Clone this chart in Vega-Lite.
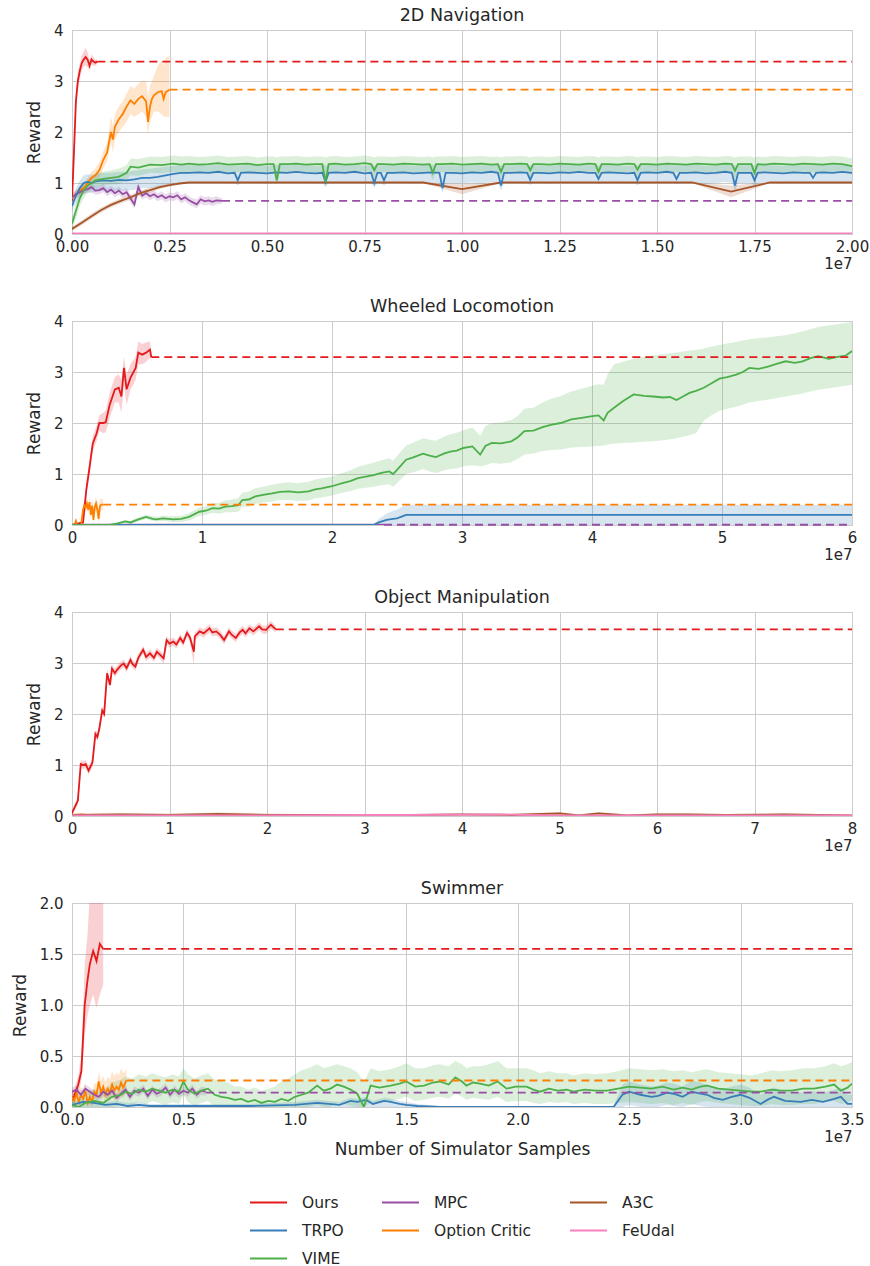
{
"$schema": "https://vega.github.io/schema/vega-lite/v6.json",
"padding": {"left": 10, "top": 6, "right": 2, "bottom": 0},
"background": "white",
"config": {
 "font": "DejaVu Sans",
 "view": {"stroke": "#cccccc", "strokeWidth": 1},
 "axis": {"grid": true, "gridColor": "#cccccc", "gridWidth": 1, "domain": false, "ticks": false, "labelFontSize": 15, "labelColor": "#262626", "titleFontSize": 17, "titleColor": "#262626", "titleFontWeight": "normal", "labelFlush": false},
 "title": {"fontSize": 17.5, "fontWeight": "normal", "color": "#262626", "offset": -1},
 "legend": {"orient": "bottom", "offset": 25, "columns": 3, "symbolType": "stroke", "symbolStrokeWidth": 2, "symbolSize": 1369, "labelFontSize": 15.5, "labelColor": "#262626", "columnPadding": 34, "rowPadding": -12, "labelOffset": 14, "layout": {"bottom": {"anchor": "middle"}}}
},
"spacing": 25,
"resolve": {"scale": {"color": "shared", "fill": "shared", "x": "independent", "y": "independent"}},
"datasets": {
"finals": [
 {"panel":1,"method":"Ours","x":0.065,"x_end":2,"y":3.38},
 {"panel":1,"method":"Option Critic","x":0.25,"x_end":2,"y":2.83},
 {"panel":1,"method":"MPC","x":0.385,"x_end":2,"y":0.65},
 {"panel":2,"method":"Ours","x":0.61,"x_end":6,"y":3.29},
 {"panel":2,"method":"Option Critic","x":0.24,"x_end":6,"y":0.4},
 {"panel":2,"method":"MPC","x":2.4,"x_end":6,"y":0.005},
 {"panel":3,"method":"Ours","x":2.09,"x_end":8,"y":3.66},
 {"panel":4,"method":"Ours","x":0.14,"x_end":3.5,"y":1.55},
 {"panel":4,"method":"Option Critic","x":0.244,"x_end":3.5,"y":0.26},
 {"panel":4,"method":"MPC","x":0.6,"x_end":3.5,"y":0.14}
],
"curves": [
 {"panel":1,"method":"Ours","x":0,"y":0.65,"lo":0.6,"hi":0.7},
 {"panel":1,"method":"Ours","x":0.005,"y":1.6,"lo":1.45,"hi":1.75},
 {"panel":1,"method":"Ours","x":0.01,"y":2.6,"lo":2.45,"hi":2.75},
 {"panel":1,"method":"Ours","x":0.015,"y":3.0,"lo":2.85,"hi":3.15},
 {"panel":1,"method":"Ours","x":0.02,"y":3.2,"lo":3.05,"hi":3.35},
 {"panel":1,"method":"Ours","x":0.025,"y":3.35,"lo":3.2,"hi":3.5},
 {"panel":1,"method":"Ours","x":0.03,"y":3.42,"lo":3.28,"hi":3.58},
 {"panel":1,"method":"Ours","x":0.035,"y":3.47,"lo":3.3,"hi":3.65},
 {"panel":1,"method":"Ours","x":0.04,"y":3.42,"lo":3.28,"hi":3.56},
 {"panel":1,"method":"Ours","x":0.045,"y":3.3,"lo":3.2,"hi":3.42},
 {"panel":1,"method":"Ours","x":0.05,"y":3.42,"lo":3.32,"hi":3.52},
 {"panel":1,"method":"Ours","x":0.055,"y":3.38,"lo":3.3,"hi":3.46},
 {"panel":1,"method":"Ours","x":0.06,"y":3.36,"lo":3.3,"hi":3.42},
 {"panel":1,"method":"Ours","x":0.065,"y":3.38,"lo":3.34,"hi":3.42},

 {"panel":1,"method":"Option Critic","x":0,"y":0.7,"lo":0.62,"hi":0.78},
 {"panel":1,"method":"Option Critic","x":0.01,"y":0.78,"lo":0.7,"hi":0.86},
 {"panel":1,"method":"Option Critic","x":0.02,"y":0.85,"lo":0.76,"hi":0.94},
 {"panel":1,"method":"Option Critic","x":0.03,"y":0.9,"lo":0.8,"hi":1.0},
 {"panel":1,"method":"Option Critic","x":0.04,"y":1.0,"lo":0.9,"hi":1.1},
 {"panel":1,"method":"Option Critic","x":0.05,"y":1.1,"lo":0.98,"hi":1.22},
 {"panel":1,"method":"Option Critic","x":0.06,"y":1.15,"lo":1.02,"hi":1.28},
 {"panel":1,"method":"Option Critic","x":0.07,"y":1.25,"lo":1.1,"hi":1.4},
 {"panel":1,"method":"Option Critic","x":0.08,"y":1.45,"lo":1.28,"hi":1.62},
 {"panel":1,"method":"Option Critic","x":0.09,"y":1.6,"lo":1.42,"hi":1.8},
 {"panel":1,"method":"Option Critic","x":0.1,"y":2.0,"lo":1.8,"hi":2.3},
 {"panel":1,"method":"Option Critic","x":0.105,"y":1.85,"lo":1.6,"hi":2.1},
 {"panel":1,"method":"Option Critic","x":0.11,"y":2.1,"lo":1.85,"hi":2.35},
 {"panel":1,"method":"Option Critic","x":0.12,"y":2.25,"lo":2.0,"hi":2.5},
 {"panel":1,"method":"Option Critic","x":0.13,"y":2.35,"lo":2.1,"hi":2.6},
 {"panel":1,"method":"Option Critic","x":0.14,"y":2.5,"lo":2.2,"hi":2.75},
 {"panel":1,"method":"Option Critic","x":0.15,"y":2.62,"lo":2.35,"hi":2.9},
 {"panel":1,"method":"Option Critic","x":0.16,"y":2.55,"lo":2.3,"hi":2.85},
 {"panel":1,"method":"Option Critic","x":0.17,"y":2.65,"lo":2.35,"hi":2.95},
 {"panel":1,"method":"Option Critic","x":0.18,"y":2.7,"lo":2.4,"hi":3.0},
 {"panel":1,"method":"Option Critic","x":0.19,"y":2.6,"lo":2.3,"hi":3.0},
 {"panel":1,"method":"Option Critic","x":0.195,"y":2.2,"lo":1.95,"hi":2.7},
 {"panel":1,"method":"Option Critic","x":0.2,"y":2.5,"lo":2.2,"hi":2.9},
 {"panel":1,"method":"Option Critic","x":0.205,"y":2.65,"lo":2.3,"hi":3.0},
 {"panel":1,"method":"Option Critic","x":0.21,"y":2.72,"lo":2.4,"hi":3.1},
 {"panel":1,"method":"Option Critic","x":0.22,"y":2.78,"lo":2.4,"hi":3.3},
 {"panel":1,"method":"Option Critic","x":0.23,"y":2.8,"lo":2.35,"hi":3.4},
 {"panel":1,"method":"Option Critic","x":0.235,"y":2.65,"lo":2.3,"hi":3.3},
 {"panel":1,"method":"Option Critic","x":0.24,"y":2.78,"lo":2.3,"hi":3.45},
 {"panel":1,"method":"Option Critic","x":0.25,"y":2.83,"lo":2.3,"hi":3.5},

 {"panel":1,"method":"MPC","x":0,"y":0.72,"lo":0.64,"hi":0.8},
 {"panel":1,"method":"MPC","x":0.01,"y":0.78,"lo":0.7,"hi":0.86},
 {"panel":1,"method":"MPC","x":0.02,"y":0.82,"lo":0.74,"hi":0.9},
 {"panel":1,"method":"MPC","x":0.03,"y":0.86,"lo":0.78,"hi":0.94},
 {"panel":1,"method":"MPC","x":0.04,"y":0.88,"lo":0.8,"hi":0.96},
 {"panel":1,"method":"MPC","x":0.05,"y":0.92,"lo":0.84,"hi":1.0},
 {"panel":1,"method":"MPC","x":0.06,"y":0.85,"lo":0.77,"hi":0.93},
 {"panel":1,"method":"MPC","x":0.07,"y":0.86,"lo":0.78,"hi":0.94},
 {"panel":1,"method":"MPC","x":0.08,"y":0.9,"lo":0.82,"hi":0.98},
 {"panel":1,"method":"MPC","x":0.09,"y":0.82,"lo":0.74,"hi":0.9},
 {"panel":1,"method":"MPC","x":0.1,"y":0.87,"lo":0.79,"hi":0.95},
 {"panel":1,"method":"MPC","x":0.11,"y":0.8,"lo":0.72,"hi":0.88},
 {"panel":1,"method":"MPC","x":0.12,"y":0.85,"lo":0.77,"hi":0.93},
 {"panel":1,"method":"MPC","x":0.13,"y":0.78,"lo":0.7,"hi":0.86},
 {"panel":1,"method":"MPC","x":0.14,"y":0.82,"lo":0.74,"hi":0.9},
 {"panel":1,"method":"MPC","x":0.15,"y":0.7,"lo":0.62,"hi":0.78},
 {"panel":1,"method":"MPC","x":0.16,"y":0.58,"lo":0.5,"hi":0.7},
 {"panel":1,"method":"MPC","x":0.17,"y":0.92,"lo":0.8,"hi":1.0},
 {"panel":1,"method":"MPC","x":0.18,"y":0.75,"lo":0.67,"hi":0.83},
 {"panel":1,"method":"MPC","x":0.19,"y":0.8,"lo":0.72,"hi":0.88},
 {"panel":1,"method":"MPC","x":0.2,"y":0.74,"lo":0.66,"hi":0.82},
 {"panel":1,"method":"MPC","x":0.21,"y":0.78,"lo":0.7,"hi":0.86},
 {"panel":1,"method":"MPC","x":0.22,"y":0.72,"lo":0.64,"hi":0.8},
 {"panel":1,"method":"MPC","x":0.23,"y":0.76,"lo":0.68,"hi":0.84},
 {"panel":1,"method":"MPC","x":0.24,"y":0.7,"lo":0.62,"hi":0.78},
 {"panel":1,"method":"MPC","x":0.25,"y":0.74,"lo":0.66,"hi":0.82},
 {"panel":1,"method":"MPC","x":0.26,"y":0.72,"lo":0.64,"hi":0.8},
 {"panel":1,"method":"MPC","x":0.27,"y":0.76,"lo":0.68,"hi":0.84},
 {"panel":1,"method":"MPC","x":0.28,"y":0.68,"lo":0.6,"hi":0.76},
 {"panel":1,"method":"MPC","x":0.29,"y":0.72,"lo":0.64,"hi":0.8},
 {"panel":1,"method":"MPC","x":0.3,"y":0.66,"lo":0.58,"hi":0.74},
 {"panel":1,"method":"MPC","x":0.31,"y":0.62,"lo":0.54,"hi":0.7},
 {"panel":1,"method":"MPC","x":0.32,"y":0.58,"lo":0.5,"hi":0.68},
 {"panel":1,"method":"MPC","x":0.33,"y":0.68,"lo":0.6,"hi":0.76},
 {"panel":1,"method":"MPC","x":0.34,"y":0.64,"lo":0.56,"hi":0.72},
 {"panel":1,"method":"MPC","x":0.35,"y":0.66,"lo":0.58,"hi":0.74},
 {"panel":1,"method":"MPC","x":0.36,"y":0.63,"lo":0.55,"hi":0.71},
 {"panel":1,"method":"MPC","x":0.37,"y":0.66,"lo":0.58,"hi":0.74},
 {"panel":1,"method":"MPC","x":0.385,"y":0.65,"lo":0.6,"hi":0.7},

 {"panel":1,"method":"A3C","x":0,"y":0.1,"lo":0.06,"hi":0.14},
 {"panel":1,"method":"A3C","x":0.025,"y":0.22,"lo":0.17,"hi":0.27},
 {"panel":1,"method":"A3C","x":0.05,"y":0.35,"lo":0.3,"hi":0.4},
 {"panel":1,"method":"A3C","x":0.075,"y":0.47,"lo":0.42,"hi":0.52},
 {"panel":1,"method":"A3C","x":0.1,"y":0.57,"lo":0.52,"hi":0.62},
 {"panel":1,"method":"A3C","x":0.125,"y":0.65,"lo":0.6,"hi":0.7},
 {"panel":1,"method":"A3C","x":0.15,"y":0.72,"lo":0.67,"hi":0.77},
 {"panel":1,"method":"A3C","x":0.175,"y":0.8,"lo":0.75,"hi":0.85},
 {"panel":1,"method":"A3C","x":0.2,"y":0.86,"lo":0.81,"hi":0.91},
 {"panel":1,"method":"A3C","x":0.225,"y":0.92,"lo":0.88,"hi":0.96},
 {"panel":1,"method":"A3C","x":0.25,"y":0.96,"lo":0.93,"hi":0.99},
 {"panel":1,"method":"A3C","x":0.275,"y":0.99,"lo":0.97,"hi":1.01},
 {"panel":1,"method":"A3C","x":0.3,"y":1.01,"lo":1.0,"hi":1.02},
 {"panel":1,"method":"A3C","x":0.9,"y":1.01,"lo":1.0,"hi":1.02},
 {"panel":1,"method":"A3C","x":1.0,"y":0.88,"lo":0.78,"hi":0.98},
 {"panel":1,"method":"A3C","x":1.1,"y":1.01,"lo":1.0,"hi":1.02},
 {"panel":1,"method":"A3C","x":1.59,"y":1.01,"lo":1.0,"hi":1.02},
 {"panel":1,"method":"A3C","x":1.69,"y":0.83,"lo":0.72,"hi":0.95},
 {"panel":1,"method":"A3C","x":1.79,"y":1.01,"lo":1.0,"hi":1.02},
 {"panel":1,"method":"A3C","x":2.0,"y":1.01,"lo":1.0,"hi":1.02},

 {"panel":1,"method":"FeUdal","x":0,"y":0.01,"lo":0.01,"hi":0.01},
 {"panel":1,"method":"FeUdal","x":2,"y":0.01,"lo":0.01,"hi":0.01},

 {"panel":1,"method":"TRPO","x":0,"y":0.55,"lo":0.45,"hi":0.65},
 {"panel":1,"method":"TRPO","x":0.01,"y":0.75,"lo":0.6,"hi":0.9},
 {"panel":1,"method":"TRPO","x":0.02,"y":0.9,"lo":0.72,"hi":1.05},
 {"panel":1,"method":"TRPO","x":0.03,"y":1.0,"lo":0.8,"hi":1.15},
 {"panel":1,"method":"TRPO","x":0.04,"y":1.02,"lo":0.82,"hi":1.17},
 {"panel":1,"method":"TRPO","x":0.05,"y":1.0,"lo":0.8,"hi":1.16},
 {"panel":1,"method":"TRPO","x":0.06,"y":1.03,"lo":0.83,"hi":1.18},
 {"panel":1,"method":"TRPO","x":0.08,"y":1.05,"lo":0.85,"hi":1.2},
 {"panel":1,"method":"TRPO","x":0.1,"y":1.04,"lo":0.84,"hi":1.2},
 {"panel":1,"method":"TRPO","x":0.12,"y":1.06,"lo":0.86,"hi":1.22},
 {"panel":1,"method":"TRPO","x":0.14,"y":1.05,"lo":0.85,"hi":1.22},
 {"panel":1,"method":"TRPO","x":0.16,"y":1.07,"lo":0.87,"hi":1.24},
 {"panel":1,"method":"TRPO","x":0.18,"y":1.1,"lo":0.9,"hi":1.27},
 {"panel":1,"method":"TRPO","x":0.2,"y":1.1,"lo":0.9,"hi":1.28},
 {"panel":1,"method":"TRPO","x":0.22,"y":1.12,"lo":0.92,"hi":1.3},
 {"panel":1,"method":"TRPO","x":0.24,"y":1.15,"lo":0.95,"hi":1.32},
 {"panel":1,"method":"TRPO","x":0.26,"y":1.18,"lo":0.98,"hi":1.34},
 {"panel":1,"method":"TRPO","x":0.28,"y":1.2,"lo":1.0,"hi":1.36},
 {"panel":1,"method":"TRPO","x":0.3,"y":1.2,"lo":1.0,"hi":1.35},
 {"panel":1,"method":"TRPO","x":0.325,"y":1.21,"lo":1.01,"hi":1.36},
 {"panel":1,"method":"TRPO","x":0.35,"y":1.2,"lo":1.0,"hi":1.35},
 {"panel":1,"method":"TRPO","x":0.375,"y":1.22,"lo":1.02,"hi":1.37},
 {"panel":1,"method":"TRPO","x":0.4,"y":1.19,"lo":0.99,"hi":1.34},
 {"panel":1,"method":"TRPO","x":0.417,"y":1.2,"lo":1.0,"hi":1.35},
 {"panel":1,"method":"TRPO","x":0.425,"y":1.05,"lo":0.95,"hi":1.35},
 {"panel":1,"method":"TRPO","x":0.433,"y":1.2,"lo":1.0,"hi":1.35},
 {"panel":1,"method":"TRPO","x":0.45,"y":1.21,"lo":1.01,"hi":1.36},
 {"panel":1,"method":"TRPO","x":0.475,"y":1.2,"lo":1.0,"hi":1.35},
 {"panel":1,"method":"TRPO","x":0.5,"y":1.19,"lo":0.99,"hi":1.34},
 {"panel":1,"method":"TRPO","x":0.525,"y":1.21,"lo":1.01,"hi":1.36},
 {"panel":1,"method":"TRPO","x":0.55,"y":1.2,"lo":1.0,"hi":1.35},
 {"panel":1,"method":"TRPO","x":0.575,"y":1.22,"lo":1.02,"hi":1.37},
 {"panel":1,"method":"TRPO","x":0.6,"y":1.2,"lo":1.0,"hi":1.35},
 {"panel":1,"method":"TRPO","x":0.625,"y":1.19,"lo":0.99,"hi":1.34},
 {"panel":1,"method":"TRPO","x":0.642,"y":1.2,"lo":1.0,"hi":1.35},
 {"panel":1,"method":"TRPO","x":0.65,"y":1.02,"lo":0.92,"hi":1.35},
 {"panel":1,"method":"TRPO","x":0.658,"y":1.2,"lo":1.0,"hi":1.35},
 {"panel":1,"method":"TRPO","x":0.675,"y":1.21,"lo":1.01,"hi":1.36},
 {"panel":1,"method":"TRPO","x":0.7,"y":1.2,"lo":1.0,"hi":1.35},
 {"panel":1,"method":"TRPO","x":0.725,"y":1.22,"lo":1.02,"hi":1.37},
 {"panel":1,"method":"TRPO","x":0.75,"y":1.19,"lo":0.99,"hi":1.34},
 {"panel":1,"method":"TRPO","x":0.767,"y":1.2,"lo":1.0,"hi":1.35},
 {"panel":1,"method":"TRPO","x":0.775,"y":1.0,"lo":0.9,"hi":1.35},
 {"panel":1,"method":"TRPO","x":0.783,"y":1.2,"lo":1.0,"hi":1.35},
 {"panel":1,"method":"TRPO","x":0.792,"y":1.2,"lo":1.0,"hi":1.35},
 {"panel":1,"method":"TRPO","x":0.8,"y":1.05,"lo":0.95,"hi":1.35},
 {"panel":1,"method":"TRPO","x":0.808,"y":1.2,"lo":1.0,"hi":1.35},
 {"panel":1,"method":"TRPO","x":0.825,"y":1.2,"lo":1.0,"hi":1.35},
 {"panel":1,"method":"TRPO","x":0.85,"y":1.21,"lo":1.01,"hi":1.36},
 {"panel":1,"method":"TRPO","x":0.875,"y":1.19,"lo":0.99,"hi":1.34},
 {"panel":1,"method":"TRPO","x":0.9,"y":1.2,"lo":1.0,"hi":1.35},
 {"panel":1,"method":"TRPO","x":0.925,"y":1.21,"lo":1.01,"hi":1.36},
 {"panel":1,"method":"TRPO","x":0.942,"y":1.2,"lo":1.0,"hi":1.35},
 {"panel":1,"method":"TRPO","x":0.95,"y":0.9,"lo":0.8,"hi":1.35},
 {"panel":1,"method":"TRPO","x":0.958,"y":1.2,"lo":1.0,"hi":1.35},
 {"panel":1,"method":"TRPO","x":0.975,"y":1.2,"lo":1.0,"hi":1.35},
 {"panel":1,"method":"TRPO","x":1.0,"y":1.19,"lo":0.99,"hi":1.34},
 {"panel":1,"method":"TRPO","x":1.025,"y":1.21,"lo":1.01,"hi":1.36},
 {"panel":1,"method":"TRPO","x":1.05,"y":1.2,"lo":1.0,"hi":1.35},
 {"panel":1,"method":"TRPO","x":1.075,"y":1.22,"lo":1.02,"hi":1.37},
 {"panel":1,"method":"TRPO","x":1.092,"y":1.2,"lo":1.0,"hi":1.35},
 {"panel":1,"method":"TRPO","x":1.1,"y":0.95,"lo":0.85,"hi":1.35},
 {"panel":1,"method":"TRPO","x":1.108,"y":1.2,"lo":1.0,"hi":1.35},
 {"panel":1,"method":"TRPO","x":1.125,"y":1.2,"lo":1.0,"hi":1.35},
 {"panel":1,"method":"TRPO","x":1.15,"y":1.21,"lo":1.01,"hi":1.36},
 {"panel":1,"method":"TRPO","x":1.167,"y":1.2,"lo":1.0,"hi":1.35},
 {"panel":1,"method":"TRPO","x":1.175,"y":1.06,"lo":0.96,"hi":1.35},
 {"panel":1,"method":"TRPO","x":1.183,"y":1.2,"lo":1.0,"hi":1.35},
 {"panel":1,"method":"TRPO","x":1.2,"y":1.2,"lo":1.0,"hi":1.35},
 {"panel":1,"method":"TRPO","x":1.225,"y":1.19,"lo":0.99,"hi":1.34},
 {"panel":1,"method":"TRPO","x":1.25,"y":1.21,"lo":1.01,"hi":1.36},
 {"panel":1,"method":"TRPO","x":1.275,"y":1.2,"lo":1.0,"hi":1.35},
 {"panel":1,"method":"TRPO","x":1.3,"y":1.22,"lo":1.02,"hi":1.37},
 {"panel":1,"method":"TRPO","x":1.325,"y":1.2,"lo":1.0,"hi":1.35},
 {"panel":1,"method":"TRPO","x":1.342,"y":1.2,"lo":1.0,"hi":1.35},
 {"panel":1,"method":"TRPO","x":1.35,"y":1.08,"lo":0.98,"hi":1.35},
 {"panel":1,"method":"TRPO","x":1.358,"y":1.2,"lo":1.0,"hi":1.35},
 {"panel":1,"method":"TRPO","x":1.375,"y":1.21,"lo":1.01,"hi":1.36},
 {"panel":1,"method":"TRPO","x":1.4,"y":1.2,"lo":1.0,"hi":1.35},
 {"panel":1,"method":"TRPO","x":1.425,"y":1.19,"lo":0.99,"hi":1.34},
 {"panel":1,"method":"TRPO","x":1.442,"y":1.2,"lo":1.0,"hi":1.35},
 {"panel":1,"method":"TRPO","x":1.45,"y":1.05,"lo":0.95,"hi":1.35},
 {"panel":1,"method":"TRPO","x":1.458,"y":1.2,"lo":1.0,"hi":1.35},
 {"panel":1,"method":"TRPO","x":1.475,"y":1.21,"lo":1.01,"hi":1.36},
 {"panel":1,"method":"TRPO","x":1.5,"y":1.2,"lo":1.0,"hi":1.35},
 {"panel":1,"method":"TRPO","x":1.525,"y":1.22,"lo":1.02,"hi":1.37},
 {"panel":1,"method":"TRPO","x":1.542,"y":1.2,"lo":1.0,"hi":1.35},
 {"panel":1,"method":"TRPO","x":1.55,"y":1.08,"lo":0.98,"hi":1.35},
 {"panel":1,"method":"TRPO","x":1.558,"y":1.2,"lo":1.0,"hi":1.35},
 {"panel":1,"method":"TRPO","x":1.575,"y":1.2,"lo":1.0,"hi":1.35},
 {"panel":1,"method":"TRPO","x":1.6,"y":1.21,"lo":1.01,"hi":1.36},
 {"panel":1,"method":"TRPO","x":1.625,"y":1.19,"lo":0.99,"hi":1.34},
 {"panel":1,"method":"TRPO","x":1.65,"y":1.2,"lo":1.0,"hi":1.35},
 {"panel":1,"method":"TRPO","x":1.675,"y":1.22,"lo":1.02,"hi":1.37},
 {"panel":1,"method":"TRPO","x":1.692,"y":1.2,"lo":1.0,"hi":1.35},
 {"panel":1,"method":"TRPO","x":1.7,"y":0.95,"lo":0.85,"hi":1.35},
 {"panel":1,"method":"TRPO","x":1.708,"y":1.2,"lo":1.0,"hi":1.35},
 {"panel":1,"method":"TRPO","x":1.725,"y":1.2,"lo":1.0,"hi":1.35},
 {"panel":1,"method":"TRPO","x":1.742,"y":1.2,"lo":1.0,"hi":1.35},
 {"panel":1,"method":"TRPO","x":1.75,"y":1.05,"lo":0.95,"hi":1.35},
 {"panel":1,"method":"TRPO","x":1.758,"y":1.2,"lo":1.0,"hi":1.35},
 {"panel":1,"method":"TRPO","x":1.775,"y":1.21,"lo":1.01,"hi":1.36},
 {"panel":1,"method":"TRPO","x":1.8,"y":1.2,"lo":1.0,"hi":1.35},
 {"panel":1,"method":"TRPO","x":1.825,"y":1.19,"lo":0.99,"hi":1.34},
 {"panel":1,"method":"TRPO","x":1.85,"y":1.21,"lo":1.01,"hi":1.36},
 {"panel":1,"method":"TRPO","x":1.875,"y":1.2,"lo":1.0,"hi":1.35},
 {"panel":1,"method":"TRPO","x":1.892,"y":1.2,"lo":1.0,"hi":1.35},
 {"panel":1,"method":"TRPO","x":1.9,"y":1.1,"lo":1.0,"hi":1.35},
 {"panel":1,"method":"TRPO","x":1.908,"y":1.2,"lo":1.0,"hi":1.35},
 {"panel":1,"method":"TRPO","x":1.925,"y":1.21,"lo":1.01,"hi":1.36},
 {"panel":1,"method":"TRPO","x":1.95,"y":1.2,"lo":1.0,"hi":1.35},
 {"panel":1,"method":"TRPO","x":1.975,"y":1.22,"lo":1.02,"hi":1.37},
 {"panel":1,"method":"TRPO","x":2.0,"y":1.2,"lo":1.0,"hi":1.35},

 {"panel":1,"method":"VIME","x":0,"y":0.2,"lo":0.1,"hi":0.3},
 {"panel":1,"method":"VIME","x":0.01,"y":0.45,"lo":0.3,"hi":0.6},
 {"panel":1,"method":"VIME","x":0.02,"y":0.7,"lo":0.55,"hi":0.85},
 {"panel":1,"method":"VIME","x":0.03,"y":0.85,"lo":0.7,"hi":1.0},
 {"panel":1,"method":"VIME","x":0.04,"y":0.95,"lo":0.82,"hi":1.08},
 {"panel":1,"method":"VIME","x":0.05,"y":1.0,"lo":0.88,"hi":1.13},
 {"panel":1,"method":"VIME","x":0.06,"y":1.05,"lo":0.92,"hi":1.18},
 {"panel":1,"method":"VIME","x":0.08,"y":1.08,"lo":0.95,"hi":1.22},
 {"panel":1,"method":"VIME","x":0.1,"y":1.1,"lo":0.97,"hi":1.25},
 {"panel":1,"method":"VIME","x":0.12,"y":1.12,"lo":0.98,"hi":1.28},
 {"panel":1,"method":"VIME","x":0.14,"y":1.2,"lo":1.05,"hi":1.35},
 {"panel":1,"method":"VIME","x":0.15,"y":1.32,"lo":1.15,"hi":1.48},
 {"panel":1,"method":"VIME","x":0.17,"y":1.3,"lo":1.14,"hi":1.47},
 {"panel":1,"method":"VIME","x":0.2,"y":1.36,"lo":1.2,"hi":1.52},
 {"panel":1,"method":"VIME","x":0.23,"y":1.35,"lo":1.19,"hi":1.51},
 {"panel":1,"method":"VIME","x":0.26,"y":1.38,"lo":1.22,"hi":1.54},
 {"panel":1,"method":"VIME","x":0.28,"y":1.36,"lo":1.2,"hi":1.52},
 {"panel":1,"method":"VIME","x":0.3,"y":1.38,"lo":1.22,"hi":1.53},
 {"panel":1,"method":"VIME","x":0.325,"y":1.36,"lo":1.2,"hi":1.51},
 {"panel":1,"method":"VIME","x":0.35,"y":1.37,"lo":1.21,"hi":1.52},
 {"panel":1,"method":"VIME","x":0.375,"y":1.39,"lo":1.23,"hi":1.54},
 {"panel":1,"method":"VIME","x":0.4,"y":1.36,"lo":1.2,"hi":1.51},
 {"panel":1,"method":"VIME","x":0.425,"y":1.37,"lo":1.21,"hi":1.52},
 {"panel":1,"method":"VIME","x":0.45,"y":1.38,"lo":1.22,"hi":1.53},
 {"panel":1,"method":"VIME","x":0.475,"y":1.35,"lo":1.19,"hi":1.5},
 {"panel":1,"method":"VIME","x":0.5,"y":1.37,"lo":1.21,"hi":1.52},
 {"panel":1,"method":"VIME","x":0.517,"y":1.37,"lo":1.21,"hi":1.52},
 {"panel":1,"method":"VIME","x":0.525,"y":1.05,"lo":0.95,"hi":1.5},
 {"panel":1,"method":"VIME","x":0.533,"y":1.37,"lo":1.21,"hi":1.52},
 {"panel":1,"method":"VIME","x":0.55,"y":1.37,"lo":1.21,"hi":1.52},
 {"panel":1,"method":"VIME","x":0.575,"y":1.38,"lo":1.22,"hi":1.53},
 {"panel":1,"method":"VIME","x":0.6,"y":1.36,"lo":1.2,"hi":1.51},
 {"panel":1,"method":"VIME","x":0.625,"y":1.37,"lo":1.21,"hi":1.52},
 {"panel":1,"method":"VIME","x":0.642,"y":1.37,"lo":1.21,"hi":1.52},
 {"panel":1,"method":"VIME","x":0.65,"y":1.02,"lo":0.92,"hi":1.5},
 {"panel":1,"method":"VIME","x":0.658,"y":1.37,"lo":1.21,"hi":1.52},
 {"panel":1,"method":"VIME","x":0.675,"y":1.38,"lo":1.22,"hi":1.53},
 {"panel":1,"method":"VIME","x":0.7,"y":1.36,"lo":1.2,"hi":1.51},
 {"panel":1,"method":"VIME","x":0.725,"y":1.37,"lo":1.21,"hi":1.52},
 {"panel":1,"method":"VIME","x":0.75,"y":1.39,"lo":1.23,"hi":1.54},
 {"panel":1,"method":"VIME","x":0.767,"y":1.37,"lo":1.21,"hi":1.52},
 {"panel":1,"method":"VIME","x":0.775,"y":1.25,"lo":1.1,"hi":1.5},
 {"panel":1,"method":"VIME","x":0.783,"y":1.37,"lo":1.21,"hi":1.52},
 {"panel":1,"method":"VIME","x":0.8,"y":1.37,"lo":1.21,"hi":1.52},
 {"panel":1,"method":"VIME","x":0.825,"y":1.36,"lo":1.2,"hi":1.51},
 {"panel":1,"method":"VIME","x":0.85,"y":1.38,"lo":1.22,"hi":1.53},
 {"panel":1,"method":"VIME","x":0.875,"y":1.37,"lo":1.21,"hi":1.52},
 {"panel":1,"method":"VIME","x":0.9,"y":1.36,"lo":1.2,"hi":1.51},
 {"panel":1,"method":"VIME","x":0.917,"y":1.37,"lo":1.21,"hi":1.52},
 {"panel":1,"method":"VIME","x":0.925,"y":1.2,"lo":1.05,"hi":1.5},
 {"panel":1,"method":"VIME","x":0.933,"y":1.37,"lo":1.21,"hi":1.52},
 {"panel":1,"method":"VIME","x":0.95,"y":1.37,"lo":1.21,"hi":1.52},
 {"panel":1,"method":"VIME","x":0.975,"y":1.38,"lo":1.22,"hi":1.53},
 {"panel":1,"method":"VIME","x":1.0,"y":1.36,"lo":1.2,"hi":1.51},
 {"panel":1,"method":"VIME","x":1.025,"y":1.37,"lo":1.21,"hi":1.52},
 {"panel":1,"method":"VIME","x":1.05,"y":1.38,"lo":1.22,"hi":1.53},
 {"panel":1,"method":"VIME","x":1.075,"y":1.36,"lo":1.2,"hi":1.51},
 {"panel":1,"method":"VIME","x":1.092,"y":1.37,"lo":1.21,"hi":1.52},
 {"panel":1,"method":"VIME","x":1.1,"y":1.22,"lo":1.07,"hi":1.5},
 {"panel":1,"method":"VIME","x":1.108,"y":1.37,"lo":1.21,"hi":1.52},
 {"panel":1,"method":"VIME","x":1.125,"y":1.37,"lo":1.21,"hi":1.52},
 {"panel":1,"method":"VIME","x":1.15,"y":1.38,"lo":1.22,"hi":1.53},
 {"panel":1,"method":"VIME","x":1.167,"y":1.37,"lo":1.21,"hi":1.52},
 {"panel":1,"method":"VIME","x":1.175,"y":1.25,"lo":1.1,"hi":1.5},
 {"panel":1,"method":"VIME","x":1.183,"y":1.37,"lo":1.21,"hi":1.52},
 {"panel":1,"method":"VIME","x":1.2,"y":1.37,"lo":1.21,"hi":1.52},
 {"panel":1,"method":"VIME","x":1.225,"y":1.36,"lo":1.2,"hi":1.51},
 {"panel":1,"method":"VIME","x":1.25,"y":1.38,"lo":1.22,"hi":1.53},
 {"panel":1,"method":"VIME","x":1.275,"y":1.37,"lo":1.21,"hi":1.52},
 {"panel":1,"method":"VIME","x":1.3,"y":1.36,"lo":1.2,"hi":1.51},
 {"panel":1,"method":"VIME","x":1.325,"y":1.38,"lo":1.22,"hi":1.53},
 {"panel":1,"method":"VIME","x":1.342,"y":1.37,"lo":1.21,"hi":1.52},
 {"panel":1,"method":"VIME","x":1.35,"y":1.22,"lo":1.07,"hi":1.5},
 {"panel":1,"method":"VIME","x":1.358,"y":1.37,"lo":1.21,"hi":1.52},
 {"panel":1,"method":"VIME","x":1.375,"y":1.37,"lo":1.21,"hi":1.52},
 {"panel":1,"method":"VIME","x":1.4,"y":1.36,"lo":1.2,"hi":1.51},
 {"panel":1,"method":"VIME","x":1.425,"y":1.38,"lo":1.22,"hi":1.53},
 {"panel":1,"method":"VIME","x":1.442,"y":1.37,"lo":1.21,"hi":1.52},
 {"panel":1,"method":"VIME","x":1.45,"y":1.26,"lo":1.1,"hi":1.5},
 {"panel":1,"method":"VIME","x":1.458,"y":1.37,"lo":1.21,"hi":1.52},
 {"panel":1,"method":"VIME","x":1.475,"y":1.37,"lo":1.21,"hi":1.52},
 {"panel":1,"method":"VIME","x":1.5,"y":1.36,"lo":1.2,"hi":1.51},
 {"panel":1,"method":"VIME","x":1.525,"y":1.38,"lo":1.22,"hi":1.53},
 {"panel":1,"method":"VIME","x":1.55,"y":1.37,"lo":1.21,"hi":1.52},
 {"panel":1,"method":"VIME","x":1.575,"y":1.36,"lo":1.2,"hi":1.51},
 {"panel":1,"method":"VIME","x":1.6,"y":1.38,"lo":1.22,"hi":1.53},
 {"panel":1,"method":"VIME","x":1.625,"y":1.37,"lo":1.21,"hi":1.52},
 {"panel":1,"method":"VIME","x":1.65,"y":1.36,"lo":1.2,"hi":1.51},
 {"panel":1,"method":"VIME","x":1.675,"y":1.38,"lo":1.22,"hi":1.53},
 {"panel":1,"method":"VIME","x":1.692,"y":1.37,"lo":1.21,"hi":1.52},
 {"panel":1,"method":"VIME","x":1.7,"y":1.24,"lo":1.08,"hi":1.5},
 {"panel":1,"method":"VIME","x":1.708,"y":1.37,"lo":1.21,"hi":1.52},
 {"panel":1,"method":"VIME","x":1.725,"y":1.37,"lo":1.21,"hi":1.52},
 {"panel":1,"method":"VIME","x":1.742,"y":1.37,"lo":1.21,"hi":1.52},
 {"panel":1,"method":"VIME","x":1.75,"y":1.2,"lo":1.05,"hi":1.5},
 {"panel":1,"method":"VIME","x":1.758,"y":1.37,"lo":1.21,"hi":1.52},
 {"panel":1,"method":"VIME","x":1.775,"y":1.36,"lo":1.2,"hi":1.51},
 {"panel":1,"method":"VIME","x":1.8,"y":1.38,"lo":1.22,"hi":1.53},
 {"panel":1,"method":"VIME","x":1.825,"y":1.37,"lo":1.21,"hi":1.52},
 {"panel":1,"method":"VIME","x":1.85,"y":1.36,"lo":1.2,"hi":1.51},
 {"panel":1,"method":"VIME","x":1.875,"y":1.38,"lo":1.22,"hi":1.53},
 {"panel":1,"method":"VIME","x":1.9,"y":1.37,"lo":1.21,"hi":1.52},
 {"panel":1,"method":"VIME","x":1.925,"y":1.36,"lo":1.2,"hi":1.51},
 {"panel":1,"method":"VIME","x":1.95,"y":1.38,"lo":1.22,"hi":1.53},
 {"panel":1,"method":"VIME","x":1.975,"y":1.37,"lo":1.21,"hi":1.52},
 {"panel":1,"method":"VIME","x":2.0,"y":1.33,"lo":1.17,"hi":1.48},

 {"panel":2,"method":"Ours","x":0,"y":0,"lo":0,"hi":0},
 {"panel":2,"method":"Ours","x":0.085,"y":0.05,"lo":0.0,"hi":0.1},
 {"panel":2,"method":"Ours","x":0.11,"y":0.69,"lo":0.55,"hi":0.83},
 {"panel":2,"method":"Ours","x":0.136,"y":1.15,"lo":1.0,"hi":1.3},
 {"panel":2,"method":"Ours","x":0.16,"y":1.6,"lo":1.45,"hi":1.75},
 {"panel":2,"method":"Ours","x":0.19,"y":1.8,"lo":1.65,"hi":1.95},
 {"panel":2,"method":"Ours","x":0.21,"y":2.0,"lo":1.85,"hi":2.15},
 {"panel":2,"method":"Ours","x":0.24,"y":2.0,"lo":1.8,"hi":2.2},
 {"panel":2,"method":"Ours","x":0.26,"y":2.02,"lo":1.82,"hi":2.25},
 {"panel":2,"method":"Ours","x":0.29,"y":2.36,"lo":2.1,"hi":2.6},
 {"panel":2,"method":"Ours","x":0.33,"y":2.66,"lo":2.4,"hi":2.9},
 {"panel":2,"method":"Ours","x":0.36,"y":2.69,"lo":2.4,"hi":2.95},
 {"panel":2,"method":"Ours","x":0.38,"y":2.52,"lo":2.2,"hi":2.85},
 {"panel":2,"method":"Ours","x":0.4,"y":3.08,"lo":2.75,"hi":3.3},
 {"panel":2,"method":"Ours","x":0.42,"y":2.66,"lo":2.35,"hi":2.95},
 {"panel":2,"method":"Ours","x":0.45,"y":2.89,"lo":2.65,"hi":3.15},
 {"panel":2,"method":"Ours","x":0.49,"y":3.08,"lo":2.85,"hi":3.3},
 {"panel":2,"method":"Ours","x":0.51,"y":3.38,"lo":3.15,"hi":3.6},
 {"panel":2,"method":"Ours","x":0.54,"y":3.34,"lo":3.15,"hi":3.55},
 {"panel":2,"method":"Ours","x":0.57,"y":3.38,"lo":3.2,"hi":3.58},
 {"panel":2,"method":"Ours","x":0.6,"y":3.44,"lo":3.28,"hi":3.6},
 {"panel":2,"method":"Ours","x":0.61,"y":3.29,"lo":3.2,"hi":3.4},

 {"panel":2,"method":"Option Critic","x":0,"y":0,"lo":0,"hi":0},
 {"panel":2,"method":"Option Critic","x":0.02,"y":0,"lo":0,"hi":0},
 {"panel":2,"method":"Option Critic","x":0.03,"y":0.08,"lo":0.02,"hi":0.14},
 {"panel":2,"method":"Option Critic","x":0.04,"y":0,"lo":0,"hi":0},
 {"panel":2,"method":"Option Critic","x":0.07,"y":0,"lo":0,"hi":0.02},
 {"panel":2,"method":"Option Critic","x":0.085,"y":0.3,"lo":0.2,"hi":0.4},
 {"panel":2,"method":"Option Critic","x":0.095,"y":0.38,"lo":0.28,"hi":0.48},
 {"panel":2,"method":"Option Critic","x":0.105,"y":0.35,"lo":0.25,"hi":0.45},
 {"panel":2,"method":"Option Critic","x":0.115,"y":0.42,"lo":0.32,"hi":0.52},
 {"panel":2,"method":"Option Critic","x":0.125,"y":0.3,"lo":0.2,"hi":0.42},
 {"panel":2,"method":"Option Critic","x":0.135,"y":0.45,"lo":0.33,"hi":0.55},
 {"panel":2,"method":"Option Critic","x":0.145,"y":0.2,"lo":0.1,"hi":0.35},
 {"panel":2,"method":"Option Critic","x":0.155,"y":0.38,"lo":0.26,"hi":0.5},
 {"panel":2,"method":"Option Critic","x":0.165,"y":0.1,"lo":0.02,"hi":0.3},
 {"panel":2,"method":"Option Critic","x":0.175,"y":0.35,"lo":0.22,"hi":0.48},
 {"panel":2,"method":"Option Critic","x":0.185,"y":0.42,"lo":0.3,"hi":0.55},
 {"panel":2,"method":"Option Critic","x":0.195,"y":0.3,"lo":0.18,"hi":0.45},
 {"panel":2,"method":"Option Critic","x":0.205,"y":0.12,"lo":0.03,"hi":0.3},
 {"panel":2,"method":"Option Critic","x":0.215,"y":0.38,"lo":0.25,"hi":0.5},
 {"panel":2,"method":"Option Critic","x":0.225,"y":0.4,"lo":0.28,"hi":0.52},
 {"panel":2,"method":"Option Critic","x":0.24,"y":0.4,"lo":0.3,"hi":0.5},

 {"panel":2,"method":"MPC","x":0,"y":0.005,"lo":0.005,"hi":0.005},
 {"panel":2,"method":"MPC","x":2.4,"y":0.005,"lo":0.005,"hi":0.005},

 {"panel":2,"method":"TRPO","x":0,"y":0,"lo":0,"hi":0},
 {"panel":2,"method":"TRPO","x":2.32,"y":0,"lo":0,"hi":0.02},
 {"panel":2,"method":"TRPO","x":2.36,"y":0.05,"lo":0,"hi":0.12},
 {"panel":2,"method":"TRPO","x":2.42,"y":0.1,"lo":0,"hi":0.22},
 {"panel":2,"method":"TRPO","x":2.47,"y":0.12,"lo":0,"hi":0.28},
 {"panel":2,"method":"TRPO","x":2.5,"y":0.13,"lo":0,"hi":0.3},
 {"panel":2,"method":"TRPO","x":2.54,"y":0.17,"lo":0,"hi":0.36},
 {"panel":2,"method":"TRPO","x":2.57,"y":0.2,"lo":0,"hi":0.39},
 {"panel":2,"method":"TRPO","x":2.6,"y":0.2,"lo":0,"hi":0.39},
 {"panel":2,"method":"TRPO","x":6,"y":0.2,"lo":0,"hi":0.39},

 {"panel":2,"method":"VIME","x":0,"y":0,"lo":0,"hi":0},
 {"panel":2,"method":"VIME","x":0.29,"y":0,"lo":0,"hi":0},
 {"panel":2,"method":"VIME","x":0.35,"y":0.03,"lo":0.01,"hi":0.05},
 {"panel":2,"method":"VIME","x":0.41,"y":0.07,"lo":0.04,"hi":0.1},
 {"panel":2,"method":"VIME","x":0.45,"y":0.05,"lo":0.02,"hi":0.08},
 {"panel":2,"method":"VIME","x":0.5,"y":0.1,"lo":0.06,"hi":0.14},
 {"panel":2,"method":"VIME","x":0.57,"y":0.16,"lo":0.12,"hi":0.2},
 {"panel":2,"method":"VIME","x":0.62,"y":0.12,"lo":0.08,"hi":0.17},
 {"panel":2,"method":"VIME","x":0.65,"y":0.11,"lo":0.07,"hi":0.16},
 {"panel":2,"method":"VIME","x":0.7,"y":0.13,"lo":0.08,"hi":0.18},
 {"panel":2,"method":"VIME","x":0.78,"y":0.11,"lo":0.06,"hi":0.17},
 {"panel":2,"method":"VIME","x":0.84,"y":0.12,"lo":0.06,"hi":0.18},
 {"panel":2,"method":"VIME","x":0.9,"y":0.16,"lo":0.09,"hi":0.23},
 {"panel":2,"method":"VIME","x":0.98,"y":0.26,"lo":0.18,"hi":0.34},
 {"panel":2,"method":"VIME","x":1.03,"y":0.28,"lo":0.2,"hi":0.37},
 {"panel":2,"method":"VIME","x":1.08,"y":0.33,"lo":0.24,"hi":0.43},
 {"panel":2,"method":"VIME","x":1.13,"y":0.32,"lo":0.22,"hi":0.43},
 {"panel":2,"method":"VIME","x":1.18,"y":0.36,"lo":0.25,"hi":0.48},
 {"panel":2,"method":"VIME","x":1.23,"y":0.37,"lo":0.25,"hi":0.5},
 {"panel":2,"method":"VIME","x":1.28,"y":0.39,"lo":0.26,"hi":0.53},
 {"panel":2,"method":"VIME","x":1.31,"y":0.49,"lo":0.36,"hi":0.63},
 {"panel":2,"method":"VIME","x":1.36,"y":0.5,"lo":0.36,"hi":0.65},
 {"panel":2,"method":"VIME","x":1.41,"y":0.56,"lo":0.41,"hi":0.72},
 {"panel":2,"method":"VIME","x":1.47,"y":0.59,"lo":0.44,"hi":0.75},
 {"panel":2,"method":"VIME","x":1.54,"y":0.62,"lo":0.46,"hi":0.79},
 {"panel":2,"method":"VIME","x":1.6,"y":0.65,"lo":0.49,"hi":0.82},
 {"panel":2,"method":"VIME","x":1.67,"y":0.66,"lo":0.49,"hi":0.84},
 {"panel":2,"method":"VIME","x":1.74,"y":0.64,"lo":0.47,"hi":0.82},
 {"panel":2,"method":"VIME","x":1.82,"y":0.66,"lo":0.48,"hi":0.85},
 {"panel":2,"method":"VIME","x":1.87,"y":0.7,"lo":0.52,"hi":0.89},
 {"panel":2,"method":"VIME","x":1.92,"y":0.72,"lo":0.54,"hi":0.91},
 {"panel":2,"method":"VIME","x":2.0,"y":0.76,"lo":0.58,"hi":0.95},
 {"panel":2,"method":"VIME","x":2.08,"y":0.82,"lo":0.63,"hi":1.02},
 {"panel":2,"method":"VIME","x":2.14,"y":0.86,"lo":0.66,"hi":1.07},
 {"panel":2,"method":"VIME","x":2.2,"y":0.92,"lo":0.71,"hi":1.14},
 {"panel":2,"method":"VIME","x":2.26,"y":0.95,"lo":0.73,"hi":1.18},
 {"panel":2,"method":"VIME","x":2.32,"y":0.98,"lo":0.75,"hi":1.22},
 {"panel":2,"method":"VIME","x":2.38,"y":1.02,"lo":0.78,"hi":1.27},
 {"panel":2,"method":"VIME","x":2.44,"y":1.05,"lo":0.8,"hi":1.31},
 {"panel":2,"method":"VIME","x":2.47,"y":1.0,"lo":0.75,"hi":1.26},
 {"panel":2,"method":"VIME","x":2.5,"y":1.08,"lo":0.82,"hi":1.35},
 {"panel":2,"method":"VIME","x":2.57,"y":1.28,"lo":1.0,"hi":1.56},
 {"panel":2,"method":"VIME","x":2.62,"y":1.32,"lo":1.03,"hi":1.61},
 {"panel":2,"method":"VIME","x":2.7,"y":1.4,"lo":1.1,"hi":1.7},
 {"panel":2,"method":"VIME","x":2.75,"y":1.36,"lo":1.05,"hi":1.67},
 {"panel":2,"method":"VIME","x":2.8,"y":1.33,"lo":1.02,"hi":1.65},
 {"panel":2,"method":"VIME","x":2.86,"y":1.4,"lo":1.07,"hi":1.73},
 {"panel":2,"method":"VIME","x":2.91,"y":1.44,"lo":1.1,"hi":1.78},
 {"panel":2,"method":"VIME","x":2.96,"y":1.46,"lo":1.11,"hi":1.81},
 {"panel":2,"method":"VIME","x":3.01,"y":1.51,"lo":1.15,"hi":1.86},
 {"panel":2,"method":"VIME","x":3.08,"y":1.54,"lo":1.17,"hi":1.91},
 {"panel":2,"method":"VIME","x":3.14,"y":1.38,"lo":1.15,"hi":1.75},
 {"panel":2,"method":"VIME","x":3.18,"y":1.55,"lo":1.17,"hi":1.94},
 {"panel":2,"method":"VIME","x":3.23,"y":1.61,"lo":1.22,"hi":2.0},
 {"panel":2,"method":"VIME","x":3.3,"y":1.6,"lo":1.2,"hi":2.01},
 {"panel":2,"method":"VIME","x":3.38,"y":1.64,"lo":1.23,"hi":2.06},
 {"panel":2,"method":"VIME","x":3.43,"y":1.72,"lo":1.3,"hi":2.14},
 {"panel":2,"method":"VIME","x":3.48,"y":1.84,"lo":1.38,"hi":2.28},
 {"panel":2,"method":"VIME","x":3.55,"y":1.85,"lo":1.4,"hi":2.3},
 {"panel":2,"method":"VIME","x":3.62,"y":1.92,"lo":1.45,"hi":2.4},
 {"panel":2,"method":"VIME","x":3.69,"y":1.97,"lo":1.47,"hi":2.48},
 {"panel":2,"method":"VIME","x":3.76,"y":2.0,"lo":1.48,"hi":2.53},
 {"panel":2,"method":"VIME","x":3.84,"y":2.07,"lo":1.52,"hi":2.62},
 {"panel":2,"method":"VIME","x":3.92,"y":2.1,"lo":1.53,"hi":2.67},
 {"panel":2,"method":"VIME","x":3.99,"y":2.13,"lo":1.54,"hi":2.72},
 {"panel":2,"method":"VIME","x":4.05,"y":2.15,"lo":1.55,"hi":2.76},
 {"panel":2,"method":"VIME","x":4.09,"y":2.05,"lo":1.56,"hi":2.75},
 {"panel":2,"method":"VIME","x":4.12,"y":2.2,"lo":1.58,"hi":2.95},
 {"panel":2,"method":"VIME","x":4.17,"y":2.3,"lo":1.6,"hi":3.15},
 {"panel":2,"method":"VIME","x":4.24,"y":2.43,"lo":1.61,"hi":3.2},
 {"panel":2,"method":"VIME","x":4.32,"y":2.56,"lo":1.62,"hi":3.26},
 {"panel":2,"method":"VIME","x":4.4,"y":2.53,"lo":1.63,"hi":3.3},
 {"panel":2,"method":"VIME","x":4.47,"y":2.52,"lo":1.64,"hi":3.33},
 {"panel":2,"method":"VIME","x":4.55,"y":2.5,"lo":1.66,"hi":3.35},
 {"panel":2,"method":"VIME","x":4.6,"y":2.51,"lo":1.68,"hi":3.37},
 {"panel":2,"method":"VIME","x":4.65,"y":2.45,"lo":1.7,"hi":3.38},
 {"panel":2,"method":"VIME","x":4.7,"y":2.52,"lo":1.73,"hi":3.4},
 {"panel":2,"method":"VIME","x":4.75,"y":2.59,"lo":1.76,"hi":3.42},
 {"panel":2,"method":"VIME","x":4.8,"y":2.63,"lo":1.8,"hi":3.43},
 {"panel":2,"method":"VIME","x":4.86,"y":2.69,"lo":2.05,"hi":3.46},
 {"panel":2,"method":"VIME","x":4.92,"y":2.78,"lo":2.15,"hi":3.5},
 {"panel":2,"method":"VIME","x":4.98,"y":2.87,"lo":2.24,"hi":3.53},
 {"panel":2,"method":"VIME","x":5.04,"y":2.9,"lo":2.28,"hi":3.56},
 {"panel":2,"method":"VIME","x":5.11,"y":2.95,"lo":2.32,"hi":3.59},
 {"panel":2,"method":"VIME","x":5.16,"y":3.0,"lo":2.36,"hi":3.62},
 {"panel":2,"method":"VIME","x":5.21,"y":3.08,"lo":2.4,"hi":3.64},
 {"panel":2,"method":"VIME","x":5.28,"y":3.06,"lo":2.43,"hi":3.66},
 {"panel":2,"method":"VIME","x":5.36,"y":3.11,"lo":2.46,"hi":3.68},
 {"panel":2,"method":"VIME","x":5.42,"y":3.16,"lo":2.49,"hi":3.7},
 {"panel":2,"method":"VIME","x":5.49,"y":3.21,"lo":2.52,"hi":3.72},
 {"panel":2,"method":"VIME","x":5.56,"y":3.18,"lo":2.55,"hi":3.76},
 {"panel":2,"method":"VIME","x":5.62,"y":3.21,"lo":2.58,"hi":3.8},
 {"panel":2,"method":"VIME","x":5.68,"y":3.27,"lo":2.62,"hi":3.84},
 {"panel":2,"method":"VIME","x":5.74,"y":3.31,"lo":2.65,"hi":3.88},
 {"panel":2,"method":"VIME","x":5.82,"y":3.26,"lo":2.68,"hi":3.91},
 {"panel":2,"method":"VIME","x":5.9,"y":3.3,"lo":2.71,"hi":3.94},
 {"panel":2,"method":"VIME","x":5.95,"y":3.32,"lo":2.73,"hi":3.96},
 {"panel":2,"method":"VIME","x":6.0,"y":3.41,"lo":2.75,"hi":3.98},

 {"panel":3,"method":"Option Critic","x":0,"y":0.02,"lo":0,"hi":0.04},
 {"panel":3,"method":"Option Critic","x":0.1,"y":0.03,"lo":0,"hi":0.05},
 {"panel":3,"method":"Option Critic","x":0.2,"y":0.01,"lo":0,"hi":0.03},
 {"panel":3,"method":"Option Critic","x":0.25,"y":0.02,"lo":0,"hi":0.04},

 {"panel":3,"method":"A3C","x":0,"y":0.02,"lo":0,"hi":0.04},
 {"panel":3,"method":"A3C","x":0.5,"y":0.03,"lo":0,"hi":0.06},
 {"panel":3,"method":"A3C","x":1,"y":0.02,"lo":0,"hi":0.05},
 {"panel":3,"method":"A3C","x":1.5,"y":0.04,"lo":0,"hi":0.07},
 {"panel":3,"method":"A3C","x":2,"y":0.02,"lo":0,"hi":0.05},
 {"panel":3,"method":"A3C","x":2.5,"y":0.02,"lo":0,"hi":0.04},
 {"panel":3,"method":"A3C","x":3,"y":0.01,"lo":0,"hi":0.03},
 {"panel":3,"method":"A3C","x":3.5,"y":0.02,"lo":0,"hi":0.04},
 {"panel":3,"method":"A3C","x":4,"y":0.03,"lo":0,"hi":0.05},
 {"panel":3,"method":"A3C","x":4.5,"y":0.02,"lo":0,"hi":0.05},
 {"panel":3,"method":"A3C","x":5,"y":0.05,"lo":0,"hi":0.08},
 {"panel":3,"method":"A3C","x":5.2,"y":0.01,"lo":0,"hi":0.03},
 {"panel":3,"method":"A3C","x":5.4,"y":0.05,"lo":0,"hi":0.08},
 {"panel":3,"method":"A3C","x":5.7,"y":0.01,"lo":0,"hi":0.03},
 {"panel":3,"method":"A3C","x":6,"y":0.03,"lo":0,"hi":0.05},
 {"panel":3,"method":"A3C","x":6.3,"y":0.03,"lo":0,"hi":0.05},
 {"panel":3,"method":"A3C","x":6.7,"y":0.02,"lo":0,"hi":0.04},
 {"panel":3,"method":"A3C","x":7.3,"y":0.03,"lo":0,"hi":0.05},
 {"panel":3,"method":"A3C","x":8,"y":0.01,"lo":0,"hi":0.03},

 {"panel":3,"method":"FeUdal","x":0,"y":0.01,"lo":0.0,"hi":0.02},
 {"panel":3,"method":"FeUdal","x":2,"y":0.01,"lo":0.0,"hi":0.02},
 {"panel":3,"method":"FeUdal","x":3.4,"y":0.02,"lo":0.0,"hi":0.03},
 {"panel":3,"method":"FeUdal","x":4.4,"y":0.03,"lo":0.0,"hi":0.04},
 {"panel":3,"method":"FeUdal","x":5,"y":0.01,"lo":0.0,"hi":0.02},
 {"panel":3,"method":"FeUdal","x":8,"y":0.01,"lo":0.0,"hi":0.02},

 {"panel":3,"method":"Ours","x":0,"y":0.05,"lo":0.0,"hi":0.1},
 {"panel":3,"method":"Ours","x":0.01,"y":0.1,"lo":0.05,"hi":0.15},
 {"panel":3,"method":"Ours","x":0.06,"y":0.3,"lo":0.22,"hi":0.38},
 {"panel":3,"method":"Ours","x":0.09,"y":1.02,"lo":0.94,"hi":1.1},
 {"panel":3,"method":"Ours","x":0.12,"y":1.0,"lo":0.92,"hi":1.08},
 {"panel":3,"method":"Ours","x":0.14,"y":1.02,"lo":0.94,"hi":1.1},
 {"panel":3,"method":"Ours","x":0.17,"y":0.89,"lo":0.81,"hi":0.97},
 {"panel":3,"method":"Ours","x":0.21,"y":1.05,"lo":0.97,"hi":1.13},
 {"panel":3,"method":"Ours","x":0.24,"y":1.61,"lo":1.53,"hi":1.69},
 {"panel":3,"method":"Ours","x":0.26,"y":1.55,"lo":1.47,"hi":1.63},
 {"panel":3,"method":"Ours","x":0.28,"y":1.71,"lo":1.63,"hi":1.79},
 {"panel":3,"method":"Ours","x":0.31,"y":2.07,"lo":1.99,"hi":2.15},
 {"panel":3,"method":"Ours","x":0.33,"y":2.0,"lo":1.92,"hi":2.08},
 {"panel":3,"method":"Ours","x":0.36,"y":2.8,"lo":2.72,"hi":2.88},
 {"panel":3,"method":"Ours","x":0.39,"y":2.57,"lo":2.49,"hi":2.65},
 {"panel":3,"method":"Ours","x":0.41,"y":2.89,"lo":2.81,"hi":2.97},
 {"panel":3,"method":"Ours","x":0.44,"y":2.8,"lo":2.72,"hi":2.88},
 {"panel":3,"method":"Ours","x":0.46,"y":2.86,"lo":2.78,"hi":2.94},
 {"panel":3,"method":"Ours","x":0.5,"y":2.95,"lo":2.87,"hi":3.03},
 {"panel":3,"method":"Ours","x":0.53,"y":2.99,"lo":2.91,"hi":3.07},
 {"panel":3,"method":"Ours","x":0.56,"y":2.9,"lo":2.82,"hi":2.98},
 {"panel":3,"method":"Ours","x":0.6,"y":3.06,"lo":2.98,"hi":3.14},
 {"panel":3,"method":"Ours","x":0.62,"y":2.98,"lo":2.9,"hi":3.06},
 {"panel":3,"method":"Ours","x":0.65,"y":2.93,"lo":2.85,"hi":3.01},
 {"panel":3,"method":"Ours","x":0.68,"y":3.1,"lo":3.02,"hi":3.18},
 {"panel":3,"method":"Ours","x":0.73,"y":3.26,"lo":3.18,"hi":3.34},
 {"panel":3,"method":"Ours","x":0.76,"y":3.12,"lo":3.04,"hi":3.2},
 {"panel":3,"method":"Ours","x":0.8,"y":3.19,"lo":3.11,"hi":3.27},
 {"panel":3,"method":"Ours","x":0.84,"y":3.1,"lo":3.02,"hi":3.18},
 {"panel":3,"method":"Ours","x":0.87,"y":3.22,"lo":3.14,"hi":3.3},
 {"panel":3,"method":"Ours","x":0.91,"y":3.15,"lo":3.07,"hi":3.23},
 {"panel":3,"method":"Ours","x":0.94,"y":3.09,"lo":2.98,"hi":3.17},
 {"panel":3,"method":"Ours","x":0.97,"y":3.45,"lo":3.37,"hi":3.53},
 {"panel":3,"method":"Ours","x":1.0,"y":3.38,"lo":3.3,"hi":3.46},
 {"panel":3,"method":"Ours","x":1.04,"y":3.42,"lo":3.34,"hi":3.5},
 {"panel":3,"method":"Ours","x":1.07,"y":3.36,"lo":3.28,"hi":3.44},
 {"panel":3,"method":"Ours","x":1.11,"y":3.49,"lo":3.41,"hi":3.57},
 {"panel":3,"method":"Ours","x":1.14,"y":3.4,"lo":3.32,"hi":3.48},
 {"panel":3,"method":"Ours","x":1.18,"y":3.59,"lo":3.51,"hi":3.67},
 {"panel":3,"method":"Ours","x":1.21,"y":3.5,"lo":3.42,"hi":3.58},
 {"panel":3,"method":"Ours","x":1.25,"y":3.22,"lo":2.95,"hi":3.35},
 {"panel":3,"method":"Ours","x":1.26,"y":3.52,"lo":3.44,"hi":3.6},
 {"panel":3,"method":"Ours","x":1.31,"y":3.62,"lo":3.54,"hi":3.7},
 {"panel":3,"method":"Ours","x":1.35,"y":3.58,"lo":3.5,"hi":3.66},
 {"panel":3,"method":"Ours","x":1.41,"y":3.68,"lo":3.6,"hi":3.76},
 {"panel":3,"method":"Ours","x":1.44,"y":3.6,"lo":3.52,"hi":3.68},
 {"panel":3,"method":"Ours","x":1.48,"y":3.62,"lo":3.54,"hi":3.7},
 {"panel":3,"method":"Ours","x":1.52,"y":3.55,"lo":3.47,"hi":3.63},
 {"panel":3,"method":"Ours","x":1.56,"y":3.45,"lo":3.37,"hi":3.53},
 {"panel":3,"method":"Ours","x":1.61,"y":3.62,"lo":3.54,"hi":3.7},
 {"panel":3,"method":"Ours","x":1.64,"y":3.55,"lo":3.47,"hi":3.63},
 {"panel":3,"method":"Ours","x":1.68,"y":3.49,"lo":3.41,"hi":3.57},
 {"panel":3,"method":"Ours","x":1.72,"y":3.6,"lo":3.52,"hi":3.68},
 {"panel":3,"method":"Ours","x":1.75,"y":3.65,"lo":3.57,"hi":3.73},
 {"panel":3,"method":"Ours","x":1.78,"y":3.58,"lo":3.5,"hi":3.66},
 {"panel":3,"method":"Ours","x":1.82,"y":3.68,"lo":3.6,"hi":3.76},
 {"panel":3,"method":"Ours","x":1.86,"y":3.62,"lo":3.54,"hi":3.7},
 {"panel":3,"method":"Ours","x":1.92,"y":3.72,"lo":3.64,"hi":3.8},
 {"panel":3,"method":"Ours","x":1.95,"y":3.66,"lo":3.58,"hi":3.74},
 {"panel":3,"method":"Ours","x":1.99,"y":3.65,"lo":3.57,"hi":3.73},
 {"panel":3,"method":"Ours","x":2.04,"y":3.75,"lo":3.67,"hi":3.83},
 {"panel":3,"method":"Ours","x":2.09,"y":3.66,"lo":3.6,"hi":3.72},

 {"panel":4,"method":"Ours","x":0,"y":0.1,"lo":0.05,"hi":0.15},
 {"panel":4,"method":"Ours","x":0.005,"y":0.08,"lo":0.03,"hi":0.13},
 {"panel":4,"method":"Ours","x":0.027,"y":0.21,"lo":0.12,"hi":0.3},
 {"panel":4,"method":"Ours","x":0.042,"y":0.35,"lo":0.25,"hi":0.5},
 {"panel":4,"method":"Ours","x":0.057,"y":1.0,"lo":0.7,"hi":1.4},
 {"panel":4,"method":"Ours","x":0.07,"y":1.25,"lo":0.9,"hi":1.7},
 {"panel":4,"method":"Ours","x":0.08,"y":1.4,"lo":1.0,"hi":2.1},
 {"panel":4,"method":"Ours","x":0.095,"y":1.53,"lo":1.1,"hi":2.1},
 {"panel":4,"method":"Ours","x":0.11,"y":1.43,"lo":0.97,"hi":2.1},
 {"panel":4,"method":"Ours","x":0.125,"y":1.6,"lo":1.1,"hi":2.1},
 {"panel":4,"method":"Ours","x":0.14,"y":1.55,"lo":1.2,"hi":2.0},

 {"panel":4,"method":"Option Critic","x":0,"y":0.1,"lo":0.03,"hi":0.18},
 {"panel":4,"method":"Option Critic","x":0.01,"y":0.06,"lo":0.0,"hi":0.14},
 {"panel":4,"method":"Option Critic","x":0.02,"y":0.14,"lo":0.07,"hi":0.22},
 {"panel":4,"method":"Option Critic","x":0.03,"y":0.05,"lo":0.0,"hi":0.13},
 {"panel":4,"method":"Option Critic","x":0.04,"y":0.12,"lo":0.05,"hi":0.2},
 {"panel":4,"method":"Option Critic","x":0.05,"y":0.08,"lo":0.01,"hi":0.16},
 {"panel":4,"method":"Option Critic","x":0.06,"y":0.16,"lo":0.09,"hi":0.24},
 {"panel":4,"method":"Option Critic","x":0.07,"y":0.04,"lo":0.0,"hi":0.12},
 {"panel":4,"method":"Option Critic","x":0.08,"y":0.1,"lo":0.03,"hi":0.18},
 {"panel":4,"method":"Option Critic","x":0.09,"y":0.05,"lo":0.0,"hi":0.13},
 {"panel":4,"method":"Option Critic","x":0.1,"y":0.15,"lo":0.08,"hi":0.24},
 {"panel":4,"method":"Option Critic","x":0.11,"y":0.12,"lo":0.05,"hi":0.22},
 {"panel":4,"method":"Option Critic","x":0.12,"y":0.25,"lo":0.16,"hi":0.35},
 {"panel":4,"method":"Option Critic","x":0.13,"y":0.14,"lo":0.06,"hi":0.25},
 {"panel":4,"method":"Option Critic","x":0.14,"y":0.2,"lo":0.1,"hi":0.31},
 {"panel":4,"method":"Option Critic","x":0.15,"y":0.12,"lo":0.04,"hi":0.24},
 {"panel":4,"method":"Option Critic","x":0.16,"y":0.18,"lo":0.08,"hi":0.3},
 {"panel":4,"method":"Option Critic","x":0.17,"y":0.14,"lo":0.05,"hi":0.27},
 {"panel":4,"method":"Option Critic","x":0.18,"y":0.22,"lo":0.11,"hi":0.35},
 {"panel":4,"method":"Option Critic","x":0.19,"y":0.16,"lo":0.06,"hi":0.3},
 {"panel":4,"method":"Option Critic","x":0.2,"y":0.2,"lo":0.09,"hi":0.34},
 {"panel":4,"method":"Option Critic","x":0.21,"y":0.17,"lo":0.07,"hi":0.31},
 {"panel":4,"method":"Option Critic","x":0.22,"y":0.24,"lo":0.12,"hi":0.38},
 {"panel":4,"method":"Option Critic","x":0.23,"y":0.19,"lo":0.08,"hi":0.33},
 {"panel":4,"method":"Option Critic","x":0.244,"y":0.26,"lo":0.15,"hi":0.37},

 {"panel":4,"method":"MPC","x":0,"y":0.15,"lo":0.11,"hi":0.19},
 {"panel":4,"method":"MPC","x":0.02,"y":0.17,"lo":0.13,"hi":0.21},
 {"panel":4,"method":"MPC","x":0.04,"y":0.12,"lo":0.08,"hi":0.16},
 {"panel":4,"method":"MPC","x":0.06,"y":0.18,"lo":0.14,"hi":0.22},
 {"panel":4,"method":"MPC","x":0.08,"y":0.15,"lo":0.11,"hi":0.19},
 {"panel":4,"method":"MPC","x":0.1,"y":0.12,"lo":0.08,"hi":0.16},
 {"panel":4,"method":"MPC","x":0.12,"y":0.1,"lo":0.06,"hi":0.14},
 {"panel":4,"method":"MPC","x":0.14,"y":0.15,"lo":0.11,"hi":0.19},
 {"panel":4,"method":"MPC","x":0.16,"y":0.12,"lo":0.08,"hi":0.16},
 {"panel":4,"method":"MPC","x":0.18,"y":0.16,"lo":0.12,"hi":0.2},
 {"panel":4,"method":"MPC","x":0.2,"y":0.09,"lo":0.05,"hi":0.13},
 {"panel":4,"method":"MPC","x":0.22,"y":0.13,"lo":0.09,"hi":0.17},
 {"panel":4,"method":"MPC","x":0.24,"y":0.17,"lo":0.13,"hi":0.21},
 {"panel":4,"method":"MPC","x":0.26,"y":0.1,"lo":0.06,"hi":0.14},
 {"panel":4,"method":"MPC","x":0.28,"y":0.16,"lo":0.12,"hi":0.2},
 {"panel":4,"method":"MPC","x":0.3,"y":0.14,"lo":0.1,"hi":0.18},
 {"panel":4,"method":"MPC","x":0.32,"y":0.18,"lo":0.14,"hi":0.22},
 {"panel":4,"method":"MPC","x":0.34,"y":0.11,"lo":0.07,"hi":0.15},
 {"panel":4,"method":"MPC","x":0.36,"y":0.17,"lo":0.13,"hi":0.21},
 {"panel":4,"method":"MPC","x":0.38,"y":0.13,"lo":0.09,"hi":0.17},
 {"panel":4,"method":"MPC","x":0.4,"y":0.15,"lo":0.11,"hi":0.19},
 {"panel":4,"method":"MPC","x":0.42,"y":0.19,"lo":0.15,"hi":0.23},
 {"panel":4,"method":"MPC","x":0.44,"y":0.12,"lo":0.08,"hi":0.16},
 {"panel":4,"method":"MPC","x":0.46,"y":0.17,"lo":0.13,"hi":0.21},
 {"panel":4,"method":"MPC","x":0.48,"y":0.13,"lo":0.09,"hi":0.17},
 {"panel":4,"method":"MPC","x":0.5,"y":0.16,"lo":0.12,"hi":0.2},
 {"panel":4,"method":"MPC","x":0.52,"y":0.14,"lo":0.1,"hi":0.18},
 {"panel":4,"method":"MPC","x":0.54,"y":0.18,"lo":0.14,"hi":0.22},
 {"panel":4,"method":"MPC","x":0.56,"y":0.12,"lo":0.08,"hi":0.16},
 {"panel":4,"method":"MPC","x":0.58,"y":0.16,"lo":0.12,"hi":0.2},
 {"panel":4,"method":"MPC","x":0.6,"y":0.15,"lo":0.11,"hi":0.19},

 {"panel":4,"method":"TRPO","x":0,"y":0.02,"lo":0,"hi":0.05},
 {"panel":4,"method":"TRPO","x":0.05,"y":0.05,"lo":0,"hi":0.08},
 {"panel":4,"method":"TRPO","x":0.1,"y":0.04,"lo":0,"hi":0.07},
 {"panel":4,"method":"TRPO","x":0.15,"y":0.02,"lo":0,"hi":0.05},
 {"panel":4,"method":"TRPO","x":0.2,"y":0.03,"lo":0,"hi":0.06},
 {"panel":4,"method":"TRPO","x":0.25,"y":0.01,"lo":0,"hi":0.04},
 {"panel":4,"method":"TRPO","x":0.3,"y":0.02,"lo":0,"hi":0.05},
 {"panel":4,"method":"TRPO","x":0.35,"y":0.01,"lo":0,"hi":0.03},
 {"panel":4,"method":"TRPO","x":0.5,"y":0.01,"lo":0,"hi":0.03},
 {"panel":4,"method":"TRPO","x":0.8,"y":0.01,"lo":0,"hi":0.03},
 {"panel":4,"method":"TRPO","x":1.0,"y":0.02,"lo":0,"hi":0.05},
 {"panel":4,"method":"TRPO","x":1.1,"y":0.04,"lo":0,"hi":0.07},
 {"panel":4,"method":"TRPO","x":1.2,"y":0.02,"lo":0,"hi":0.05},
 {"panel":4,"method":"TRPO","x":1.25,"y":0.06,"lo":0,"hi":0.09},
 {"panel":4,"method":"TRPO","x":1.28,"y":0.05,"lo":0,"hi":0.08},
 {"panel":4,"method":"TRPO","x":1.32,"y":0.07,"lo":0,"hi":0.1},
 {"panel":4,"method":"TRPO","x":1.35,"y":0.03,"lo":0,"hi":0.06},
 {"panel":4,"method":"TRPO","x":1.4,"y":0.06,"lo":0,"hi":0.09},
 {"panel":4,"method":"TRPO","x":1.43,"y":0.05,"lo":0,"hi":0.08},
 {"panel":4,"method":"TRPO","x":1.47,"y":0.03,"lo":0,"hi":0.06},
 {"panel":4,"method":"TRPO","x":1.5,"y":0.02,"lo":0,"hi":0.05},
 {"panel":4,"method":"TRPO","x":1.55,"y":0.01,"lo":0,"hi":0.03},
 {"panel":4,"method":"TRPO","x":1.65,"y":0.0,"lo":0,"hi":0.01},
 {"panel":4,"method":"TRPO","x":2.43,"y":0.0,"lo":0,"hi":0.01},
 {"panel":4,"method":"TRPO","x":2.47,"y":0.12,"lo":0,"hi":0.22},
 {"panel":4,"method":"TRPO","x":2.5,"y":0.15,"lo":0.02,"hi":0.25},
 {"panel":4,"method":"TRPO","x":2.55,"y":0.12,"lo":0,"hi":0.22},
 {"panel":4,"method":"TRPO","x":2.6,"y":0.1,"lo":0,"hi":0.2},
 {"panel":4,"method":"TRPO","x":2.63,"y":0.11,"lo":0,"hi":0.21},
 {"panel":4,"method":"TRPO","x":2.67,"y":0.14,"lo":0.02,"hi":0.24},
 {"panel":4,"method":"TRPO","x":2.7,"y":0.13,"lo":0.01,"hi":0.23},
 {"panel":4,"method":"TRPO","x":2.74,"y":0.1,"lo":0,"hi":0.2},
 {"panel":4,"method":"TRPO","x":2.78,"y":0.15,"lo":0.03,"hi":0.26},
 {"panel":4,"method":"TRPO","x":2.82,"y":0.13,"lo":0.01,"hi":0.24},
 {"panel":4,"method":"TRPO","x":2.85,"y":0.12,"lo":0,"hi":0.22},
 {"panel":4,"method":"TRPO","x":2.88,"y":0.09,"lo":0,"hi":0.19},
 {"panel":4,"method":"TRPO","x":2.92,"y":0.07,"lo":0,"hi":0.17},
 {"panel":4,"method":"TRPO","x":2.96,"y":0.1,"lo":0,"hi":0.2},
 {"panel":4,"method":"TRPO","x":3.0,"y":0.12,"lo":0,"hi":0.22},
 {"panel":4,"method":"TRPO","x":3.04,"y":0.09,"lo":0,"hi":0.19},
 {"panel":4,"method":"TRPO","x":3.09,"y":0.03,"lo":0,"hi":0.12},
 {"panel":4,"method":"TRPO","x":3.12,"y":0.07,"lo":0,"hi":0.16},
 {"panel":4,"method":"TRPO","x":3.15,"y":0.1,"lo":0,"hi":0.19},
 {"panel":4,"method":"TRPO","x":3.2,"y":0.06,"lo":0,"hi":0.15},
 {"panel":4,"method":"TRPO","x":3.27,"y":0.05,"lo":0,"hi":0.14},
 {"panel":4,"method":"TRPO","x":3.32,"y":0.07,"lo":0,"hi":0.16},
 {"panel":4,"method":"TRPO","x":3.37,"y":0.05,"lo":0,"hi":0.14},
 {"panel":4,"method":"TRPO","x":3.42,"y":0.08,"lo":0,"hi":0.17},
 {"panel":4,"method":"TRPO","x":3.45,"y":0.1,"lo":0,"hi":0.19},
 {"panel":4,"method":"TRPO","x":3.48,"y":0.03,"lo":0,"hi":0.12},
 {"panel":4,"method":"TRPO","x":3.5,"y":0.03,"lo":0,"hi":0.12},

 {"panel":4,"method":"VIME","x":0,"y":0.02,"lo":0,"hi":0.1},
 {"panel":4,"method":"VIME","x":0.03,"y":0.0,"lo":0,"hi":0.08},
 {"panel":4,"method":"VIME","x":0.06,"y":0.04,"lo":0,"hi":0.14},
 {"panel":4,"method":"VIME","x":0.1,"y":0.06,"lo":0,"hi":0.18},
 {"panel":4,"method":"VIME","x":0.14,"y":0.04,"lo":0,"hi":0.16},
 {"panel":4,"method":"VIME","x":0.18,"y":0.1,"lo":0,"hi":0.24},
 {"panel":4,"method":"VIME","x":0.22,"y":0.12,"lo":0.01,"hi":0.27},
 {"panel":4,"method":"VIME","x":0.24,"y":0.15,"lo":0.03,"hi":0.3},
 {"panel":4,"method":"VIME","x":0.27,"y":0.13,"lo":0.02,"hi":0.28},
 {"panel":4,"method":"VIME","x":0.3,"y":0.17,"lo":0.05,"hi":0.32},
 {"panel":4,"method":"VIME","x":0.33,"y":0.15,"lo":0.03,"hi":0.3},
 {"panel":4,"method":"VIME","x":0.36,"y":0.18,"lo":0.06,"hi":0.33},
 {"panel":4,"method":"VIME","x":0.39,"y":0.16,"lo":0.04,"hi":0.31},
 {"panel":4,"method":"VIME","x":0.42,"y":0.14,"lo":0.02,"hi":0.29},
 {"panel":4,"method":"VIME","x":0.45,"y":0.17,"lo":0.05,"hi":0.32},
 {"panel":4,"method":"VIME","x":0.48,"y":0.15,"lo":0.03,"hi":0.3},
 {"panel":4,"method":"VIME","x":0.5,"y":0.25,"lo":0.12,"hi":0.38},
 {"panel":4,"method":"VIME","x":0.52,"y":0.17,"lo":0.05,"hi":0.32},
 {"panel":4,"method":"VIME","x":0.55,"y":0.13,"lo":0.01,"hi":0.28},
 {"panel":4,"method":"VIME","x":0.58,"y":0.16,"lo":0.04,"hi":0.31},
 {"panel":4,"method":"VIME","x":0.61,"y":0.18,"lo":0.06,"hi":0.33},
 {"panel":4,"method":"VIME","x":0.64,"y":0.12,"lo":0.0,"hi":0.27},
 {"panel":4,"method":"VIME","x":0.67,"y":0.1,"lo":0,"hi":0.25},
 {"panel":4,"method":"VIME","x":0.7,"y":0.09,"lo":0,"hi":0.24},
 {"panel":4,"method":"VIME","x":0.73,"y":0.07,"lo":0,"hi":0.2},
 {"panel":4,"method":"VIME","x":0.76,"y":0.08,"lo":0,"hi":0.2},
 {"panel":4,"method":"VIME","x":0.79,"y":0.05,"lo":0,"hi":0.17},
 {"panel":4,"method":"VIME","x":0.82,"y":0.07,"lo":0,"hi":0.19},
 {"panel":4,"method":"VIME","x":0.85,"y":0.04,"lo":0,"hi":0.16},
 {"panel":4,"method":"VIME","x":0.88,"y":0.06,"lo":0,"hi":0.18},
 {"panel":4,"method":"VIME","x":0.91,"y":0.05,"lo":0,"hi":0.2},
 {"panel":4,"method":"VIME","x":0.94,"y":0.08,"lo":0,"hi":0.25},
 {"panel":4,"method":"VIME","x":0.97,"y":0.06,"lo":0,"hi":0.28},
 {"panel":4,"method":"VIME","x":1.0,"y":0.1,"lo":0,"hi":0.32},
 {"panel":4,"method":"VIME","x":1.03,"y":0.12,"lo":0,"hi":0.36},
 {"panel":4,"method":"VIME","x":1.06,"y":0.14,"lo":0,"hi":0.38},
 {"panel":4,"method":"VIME","x":1.1,"y":0.21,"lo":0.02,"hi":0.42},
 {"panel":4,"method":"VIME","x":1.13,"y":0.16,"lo":0,"hi":0.38},
 {"panel":4,"method":"VIME","x":1.16,"y":0.18,"lo":0.0,"hi":0.4},
 {"panel":4,"method":"VIME","x":1.19,"y":0.22,"lo":0.04,"hi":0.42},
 {"panel":4,"method":"VIME","x":1.22,"y":0.2,"lo":0.03,"hi":0.4},
 {"panel":4,"method":"VIME","x":1.25,"y":0.17,"lo":0.01,"hi":0.38},
 {"panel":4,"method":"VIME","x":1.28,"y":0.13,"lo":0,"hi":0.34},
 {"panel":4,"method":"VIME","x":1.31,"y":0.0,"lo":0,"hi":0.25},
 {"panel":4,"method":"VIME","x":1.34,"y":0.21,"lo":0.05,"hi":0.38},
 {"panel":4,"method":"VIME","x":1.38,"y":0.19,"lo":0.04,"hi":0.35},
 {"panel":4,"method":"VIME","x":1.43,"y":0.21,"lo":0.06,"hi":0.37},
 {"panel":4,"method":"VIME","x":1.47,"y":0.23,"lo":0.08,"hi":0.4},
 {"panel":4,"method":"VIME","x":1.5,"y":0.25,"lo":0.1,"hi":0.43},
 {"panel":4,"method":"VIME","x":1.54,"y":0.2,"lo":0.06,"hi":0.38},
 {"panel":4,"method":"VIME","x":1.58,"y":0.21,"lo":0.07,"hi":0.38},
 {"panel":4,"method":"VIME","x":1.62,"y":0.24,"lo":0.09,"hi":0.41},
 {"panel":4,"method":"VIME","x":1.65,"y":0.25,"lo":0.1,"hi":0.42},
 {"panel":4,"method":"VIME","x":1.69,"y":0.22,"lo":0.08,"hi":0.4},
 {"panel":4,"method":"VIME","x":1.72,"y":0.29,"lo":0.13,"hi":0.45},
 {"panel":4,"method":"VIME","x":1.75,"y":0.25,"lo":0.1,"hi":0.42},
 {"panel":4,"method":"VIME","x":1.77,"y":0.21,"lo":0.07,"hi":0.38},
 {"panel":4,"method":"VIME","x":1.8,"y":0.24,"lo":0.09,"hi":0.4},
 {"panel":4,"method":"VIME","x":1.83,"y":0.23,"lo":0.08,"hi":0.4},
 {"panel":4,"method":"VIME","x":1.87,"y":0.21,"lo":0.07,"hi":0.42},
 {"panel":4,"method":"VIME","x":1.91,"y":0.25,"lo":0.1,"hi":0.45},
 {"panel":4,"method":"VIME","x":1.95,"y":0.18,"lo":0.05,"hi":0.38},
 {"panel":4,"method":"VIME","x":1.99,"y":0.2,"lo":0.06,"hi":0.38},
 {"panel":4,"method":"VIME","x":2.04,"y":0.2,"lo":0.06,"hi":0.38},
 {"panel":4,"method":"VIME","x":2.07,"y":0.17,"lo":0.04,"hi":0.36},
 {"panel":4,"method":"VIME","x":2.1,"y":0.15,"lo":0.03,"hi":0.33},
 {"panel":4,"method":"VIME","x":2.14,"y":0.18,"lo":0.05,"hi":0.35},
 {"panel":4,"method":"VIME","x":2.18,"y":0.16,"lo":0.04,"hi":0.33},
 {"panel":4,"method":"VIME","x":2.22,"y":0.17,"lo":0.05,"hi":0.33},
 {"panel":4,"method":"VIME","x":2.25,"y":0.15,"lo":0.03,"hi":0.31},
 {"panel":4,"method":"VIME","x":2.3,"y":0.17,"lo":0.04,"hi":0.33},
 {"panel":4,"method":"VIME","x":2.35,"y":0.16,"lo":0.03,"hi":0.32},
 {"panel":4,"method":"VIME","x":2.4,"y":0.16,"lo":0.03,"hi":0.33},
 {"panel":4,"method":"VIME","x":2.45,"y":0.18,"lo":0.04,"hi":0.35},
 {"panel":4,"method":"VIME","x":2.5,"y":0.2,"lo":0.05,"hi":0.38},
 {"panel":4,"method":"VIME","x":2.55,"y":0.19,"lo":0.04,"hi":0.37},
 {"panel":4,"method":"VIME","x":2.6,"y":0.18,"lo":0.03,"hi":0.36},
 {"panel":4,"method":"VIME","x":2.65,"y":0.2,"lo":0.04,"hi":0.37},
 {"panel":4,"method":"VIME","x":2.7,"y":0.17,"lo":0.02,"hi":0.35},
 {"panel":4,"method":"VIME","x":2.74,"y":0.19,"lo":0.04,"hi":0.36},
 {"panel":4,"method":"VIME","x":2.78,"y":0.17,"lo":0.02,"hi":0.34},
 {"panel":4,"method":"VIME","x":2.82,"y":0.2,"lo":0.05,"hi":0.36},
 {"panel":4,"method":"VIME","x":2.85,"y":0.21,"lo":0.06,"hi":0.37},
 {"panel":4,"method":"VIME","x":2.9,"y":0.18,"lo":0.04,"hi":0.34},
 {"panel":4,"method":"VIME","x":2.95,"y":0.17,"lo":0.03,"hi":0.33},
 {"panel":4,"method":"VIME","x":3.0,"y":0.16,"lo":0.02,"hi":0.32},
 {"panel":4,"method":"VIME","x":3.05,"y":0.15,"lo":0.01,"hi":0.31},
 {"panel":4,"method":"VIME","x":3.09,"y":0.15,"lo":0.01,"hi":0.33},
 {"panel":4,"method":"VIME","x":3.14,"y":0.17,"lo":0.03,"hi":0.36},
 {"panel":4,"method":"VIME","x":3.18,"y":0.16,"lo":0.02,"hi":0.35},
 {"panel":4,"method":"VIME","x":3.23,"y":0.16,"lo":0.02,"hi":0.36},
 {"panel":4,"method":"VIME","x":3.28,"y":0.18,"lo":0.03,"hi":0.38},
 {"panel":4,"method":"VIME","x":3.33,"y":0.18,"lo":0.03,"hi":0.38},
 {"panel":4,"method":"VIME","x":3.38,"y":0.2,"lo":0.05,"hi":0.4},
 {"panel":4,"method":"VIME","x":3.42,"y":0.22,"lo":0.06,"hi":0.43},
 {"panel":4,"method":"VIME","x":3.45,"y":0.16,"lo":0.03,"hi":0.4},
 {"panel":4,"method":"VIME","x":3.48,"y":0.19,"lo":0.04,"hi":0.42},
 {"panel":4,"method":"VIME","x":3.5,"y":0.23,"lo":0.07,"hi":0.44}
]
},
"vconcat": [
 {
  "title": "2D Navigation",
  "width": 780, "height": 204,
  "layer": [
   {"data": {"name": "curves"}, "transform": [{"filter": "datum.panel == 1"}],
    "mark": {"type": "area", "opacity": 0.2, "clip": true},
    "encoding": {
     "x": {"field": "x", "type": "quantitative", "scale": {"domain": [0, 2], "nice": false}, "axis": {"title": "1e7", "titleAnchor": "end", "titleFontSize": 15, "titlePadding": 2, "values": [0, 0.25, 0.5, 0.75, 1, 1.25, 1.5, 1.75, 2], "format": ".2f", "labelPadding": 5}},
     "y": {"field": "lo", "type": "quantitative", "scale": {"domain": [0, 4], "nice": false}, "axis": {"title": "Reward", "values": [0, 1, 2, 3, 4], "format": "d", "labelPadding": 9, "titlePadding": 10}},
     "y2": {"field": "hi"},
     "fill": {"field": "method", "type": "nominal", "scale": {"domain": ["Ours", "TRPO", "VIME", "MPC", "Option Critic", "A3C", "FeUdal"], "range": ["#e41a1c", "#377eb8", "#4daf4a", "#984ea3", "#ff7f00", "#a65628", "#f781bf"]}, "legend": null}
    }},
   {"data": {"name": "curves"}, "transform": [{"filter": "datum.panel == 1"}],
    "mark": {"type": "line", "strokeWidth": 1.8, "clip": true},
    "encoding": {
     "x": {"field": "x", "type": "quantitative", "scale": {"domain": [0, 2], "nice": false}, "axis": {"title": "1e7", "titleAnchor": "end", "titleFontSize": 15, "titlePadding": 2, "values": [0, 0.25, 0.5, 0.75, 1, 1.25, 1.5, 1.75, 2], "format": ".2f", "labelPadding": 5}},
     "y": {"field": "y", "type": "quantitative", "scale": {"domain": [0, 4], "nice": false}, "axis": {"title": "Reward", "values": [0, 1, 2, 3, 4], "format": "d", "labelPadding": 9, "titlePadding": 10}},
     "color": {"field": "method", "type": "nominal", "scale": {"domain": ["Ours", "MPC", "A3C", "TRPO", "Option Critic", "FeUdal", "VIME"], "range": ["#e41a1c", "#984ea3", "#a65628", "#377eb8", "#ff7f00", "#f781bf", "#4daf4a"]}, "legend": {"title": null}}
    }},
   {"data": {"name": "finals"}, "transform": [{"filter": "datum.panel == 1"}],
    "mark": {"type": "rule", "strokeDash": [8, 5], "strokeWidth": 1.8},
    "encoding": {
     "x": {"field": "x", "type": "quantitative", "scale": {"domain": [0, 2], "nice": false}, "axis": {"title": "1e7", "titleAnchor": "end", "titleFontSize": 15, "titlePadding": 2, "values": [0, 0.25, 0.5, 0.75, 1, 1.25, 1.5, 1.75, 2], "format": ".2f", "labelPadding": 5}},
     "x2": {"field": "x_end"},
     "y": {"field": "y", "type": "quantitative", "scale": {"domain": [0, 4], "nice": false}, "axis": {"title": "Reward", "values": [0, 1, 2, 3, 4], "format": "d", "labelPadding": 9, "titlePadding": 10}},
     "color": {"field": "method", "type": "nominal", "scale": {"domain": ["Ours", "MPC", "A3C", "TRPO", "Option Critic", "FeUdal", "VIME"], "range": ["#e41a1c", "#984ea3", "#a65628", "#377eb8", "#ff7f00", "#f781bf", "#4daf4a"]}, "legend": {"title": null}}
    }}
  ]
 },
 {
  "title": "Wheeled Locomotion",
  "width": 780, "height": 204,
  "layer": [
   {"data": {"name": "curves"}, "transform": [{"filter": "datum.panel == 2"}],
    "mark": {"type": "area", "opacity": 0.2, "clip": true},
    "encoding": {
     "x": {"field": "x", "type": "quantitative", "scale": {"domain": [0, 6], "nice": false}, "axis": {"title": "1e7", "titleAnchor": "end", "titleFontSize": 15, "titlePadding": 2, "values": [0, 1, 2, 3, 4, 5, 6], "format": "d", "labelPadding": 5}},
     "y": {"field": "lo", "type": "quantitative", "scale": {"domain": [0, 4], "nice": false}, "axis": {"title": "Reward", "values": [0, 1, 2, 3, 4], "format": "d", "labelPadding": 9, "titlePadding": 10}},
     "y2": {"field": "hi"},
     "fill": {"field": "method", "type": "nominal", "scale": {"domain": ["Ours", "TRPO", "VIME", "MPC", "Option Critic", "A3C", "FeUdal"], "range": ["#e41a1c", "#377eb8", "#4daf4a", "#984ea3", "#ff7f00", "#a65628", "#f781bf"]}, "legend": null}
    }},
   {"data": {"name": "curves"}, "transform": [{"filter": "datum.panel == 2"}],
    "mark": {"type": "line", "strokeWidth": 1.8, "clip": true},
    "encoding": {
     "x": {"field": "x", "type": "quantitative", "scale": {"domain": [0, 6], "nice": false}, "axis": {"title": "1e7", "titleAnchor": "end", "titleFontSize": 15, "titlePadding": 2, "values": [0, 1, 2, 3, 4, 5, 6], "format": "d", "labelPadding": 5}},
     "y": {"field": "y", "type": "quantitative", "scale": {"domain": [0, 4], "nice": false}, "axis": {"title": "Reward", "values": [0, 1, 2, 3, 4], "format": "d", "labelPadding": 9, "titlePadding": 10}},
     "color": {"field": "method", "type": "nominal", "scale": {"domain": ["Ours", "MPC", "A3C", "TRPO", "Option Critic", "FeUdal", "VIME"], "range": ["#e41a1c", "#984ea3", "#a65628", "#377eb8", "#ff7f00", "#f781bf", "#4daf4a"]}, "legend": {"title": null}}
    }},
   {"data": {"name": "finals"}, "transform": [{"filter": "datum.panel == 2"}],
    "mark": {"type": "rule", "strokeDash": [8, 5], "strokeWidth": 1.8},
    "encoding": {
     "x": {"field": "x", "type": "quantitative", "scale": {"domain": [0, 6], "nice": false}, "axis": {"title": "1e7", "titleAnchor": "end", "titleFontSize": 15, "titlePadding": 2, "values": [0, 1, 2, 3, 4, 5, 6], "format": "d", "labelPadding": 5}},
     "x2": {"field": "x_end"},
     "y": {"field": "y", "type": "quantitative", "scale": {"domain": [0, 4], "nice": false}, "axis": {"title": "Reward", "values": [0, 1, 2, 3, 4], "format": "d", "labelPadding": 9, "titlePadding": 10}},
     "color": {"field": "method", "type": "nominal", "scale": {"domain": ["Ours", "MPC", "A3C", "TRPO", "Option Critic", "FeUdal", "VIME"], "range": ["#e41a1c", "#984ea3", "#a65628", "#377eb8", "#ff7f00", "#f781bf", "#4daf4a"]}, "legend": {"title": null}}
    }}
  ]
 },
 {
  "title": "Object Manipulation",
  "width": 780, "height": 204,
  "layer": [
   {"data": {"name": "curves"}, "transform": [{"filter": "datum.panel == 3"}],
    "mark": {"type": "area", "opacity": 0.2, "clip": true},
    "encoding": {
     "x": {"field": "x", "type": "quantitative", "scale": {"domain": [0, 8], "nice": false}, "axis": {"title": "1e7", "titleAnchor": "end", "titleFontSize": 15, "titlePadding": 2, "values": [0, 1, 2, 3, 4, 5, 6, 7, 8], "format": "d", "labelPadding": 5}},
     "y": {"field": "lo", "type": "quantitative", "scale": {"domain": [0, 4], "nice": false}, "axis": {"title": "Reward", "values": [0, 1, 2, 3, 4], "format": "d", "labelPadding": 9, "titlePadding": 10}},
     "y2": {"field": "hi"},
     "fill": {"field": "method", "type": "nominal", "scale": {"domain": ["Ours", "TRPO", "VIME", "MPC", "Option Critic", "A3C", "FeUdal"], "range": ["#e41a1c", "#377eb8", "#4daf4a", "#984ea3", "#ff7f00", "#a65628", "#f781bf"]}, "legend": null}
    }},
   {"data": {"name": "curves"}, "transform": [{"filter": "datum.panel == 3"}],
    "mark": {"type": "line", "strokeWidth": 1.8, "clip": true},
    "encoding": {
     "x": {"field": "x", "type": "quantitative", "scale": {"domain": [0, 8], "nice": false}, "axis": {"title": "1e7", "titleAnchor": "end", "titleFontSize": 15, "titlePadding": 2, "values": [0, 1, 2, 3, 4, 5, 6, 7, 8], "format": "d", "labelPadding": 5}},
     "y": {"field": "y", "type": "quantitative", "scale": {"domain": [0, 4], "nice": false}, "axis": {"title": "Reward", "values": [0, 1, 2, 3, 4], "format": "d", "labelPadding": 9, "titlePadding": 10}},
     "color": {"field": "method", "type": "nominal", "scale": {"domain": ["Ours", "MPC", "A3C", "TRPO", "Option Critic", "FeUdal", "VIME"], "range": ["#e41a1c", "#984ea3", "#a65628", "#377eb8", "#ff7f00", "#f781bf", "#4daf4a"]}, "legend": {"title": null}}
    }},
   {"data": {"name": "finals"}, "transform": [{"filter": "datum.panel == 3"}],
    "mark": {"type": "rule", "strokeDash": [8, 5], "strokeWidth": 1.8},
    "encoding": {
     "x": {"field": "x", "type": "quantitative", "scale": {"domain": [0, 8], "nice": false}, "axis": {"title": "1e7", "titleAnchor": "end", "titleFontSize": 15, "titlePadding": 2, "values": [0, 1, 2, 3, 4, 5, 6, 7, 8], "format": "d", "labelPadding": 5}},
     "x2": {"field": "x_end"},
     "y": {"field": "y", "type": "quantitative", "scale": {"domain": [0, 4], "nice": false}, "axis": {"title": "Reward", "values": [0, 1, 2, 3, 4], "format": "d", "labelPadding": 9, "titlePadding": 10}},
     "color": {"field": "method", "type": "nominal", "scale": {"domain": ["Ours", "MPC", "A3C", "TRPO", "Option Critic", "FeUdal", "VIME"], "range": ["#e41a1c", "#984ea3", "#a65628", "#377eb8", "#ff7f00", "#f781bf", "#4daf4a"]}, "legend": {"title": null}}
    }}
  ]
 },
 {
  "title": "Swimmer",
  "width": 780, "height": 204,
  "resolve": {"axis": {"x": "independent"}},
  "layer": [
   {"data": {"name": "curves"}, "transform": [{"filter": "datum.panel == 4"}],
    "mark": {"type": "area", "opacity": 0.2, "clip": true},
    "encoding": {
     "x": {"field": "x", "type": "quantitative", "scale": {"domain": [0, 3.5], "nice": false}, "axis": {"orient": "bottom", "title": "1e7", "titleAnchor": "end", "titleFontSize": 15, "titlePadding": 2, "values": [0, 0.5, 1, 1.5, 2, 2.5, 3, 3.5], "format": ".1f", "labelPadding": 5}},
     "y": {"field": "lo", "type": "quantitative", "scale": {"domain": [0, 2], "nice": false}, "axis": {"title": "Reward", "values": [0, 0.5, 1, 1.5, 2], "format": ".1f", "labelPadding": 9, "titlePadding": 10}},
     "y2": {"field": "hi"},
     "fill": {"field": "method", "type": "nominal", "scale": {"domain": ["Ours", "TRPO", "VIME", "MPC", "Option Critic", "A3C", "FeUdal"], "range": ["#e41a1c", "#377eb8", "#4daf4a", "#984ea3", "#ff7f00", "#a65628", "#f781bf"]}, "legend": null}
    }},
   {"data": {"name": "curves"}, "transform": [{"filter": "datum.panel == 4"}],
    "mark": {"type": "line", "strokeWidth": 1.8, "clip": true},
    "encoding": {
     "x": {"field": "x", "type": "quantitative", "scale": {"domain": [0, 3.5], "nice": false}, "axis": {"orient": "bottom", "title": "Number of Simulator Samples", "labels": false, "grid": false, "ticks": false, "domain": false, "titlePadding": 34}},
     "y": {"field": "y", "type": "quantitative", "scale": {"domain": [0, 2], "nice": false}, "axis": {"title": "Reward", "values": [0, 0.5, 1, 1.5, 2], "format": ".1f", "labelPadding": 9, "titlePadding": 10}},
     "color": {"field": "method", "type": "nominal", "scale": {"domain": ["Ours", "MPC", "A3C", "TRPO", "Option Critic", "FeUdal", "VIME"], "range": ["#e41a1c", "#984ea3", "#a65628", "#377eb8", "#ff7f00", "#f781bf", "#4daf4a"]}, "legend": {"title": null}}
    }},
   {"data": {"name": "finals"}, "transform": [{"filter": "datum.panel == 4"}],
    "mark": {"type": "rule", "strokeDash": [8, 5], "strokeWidth": 1.8},
    "encoding": {
     "x": {"field": "x", "type": "quantitative", "scale": {"domain": [0, 3.5], "nice": false}, "axis": null},
     "x2": {"field": "x_end"},
     "y": {"field": "y", "type": "quantitative", "scale": {"domain": [0, 2], "nice": false}, "axis": {"title": "Reward", "values": [0, 0.5, 1, 1.5, 2], "format": ".1f", "labelPadding": 9, "titlePadding": 10}},
     "color": {"field": "method", "type": "nominal", "scale": {"domain": ["Ours", "MPC", "A3C", "TRPO", "Option Critic", "FeUdal", "VIME"], "range": ["#e41a1c", "#984ea3", "#a65628", "#377eb8", "#ff7f00", "#f781bf", "#4daf4a"]}, "legend": {"title": null}}
    }}
  ]
 }
]
}
